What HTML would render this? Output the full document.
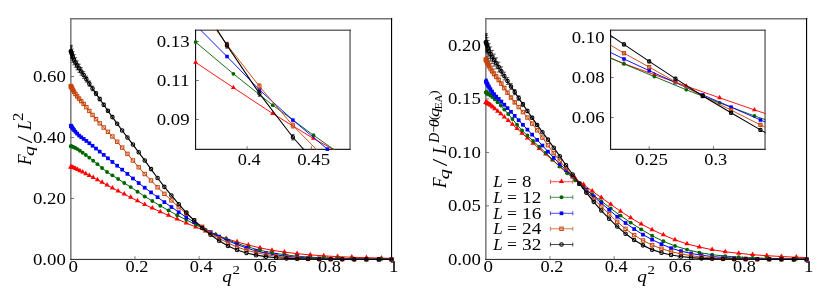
<!DOCTYPE html>
<html><head><meta charset="utf-8"><title>F_q scaling</title>
<style>html,body{margin:0;padding:0;background:#fff;}svg{display:block;will-change:transform;}text{font-family:"Liberation Serif",serif;}</style></head>
<body>
<svg width="830" height="302" viewBox="0 0 830 302" font-family='"Liberation Serif", serif' fill="#000">
<rect width="830" height="302" fill="#fff"/>
<defs>
<clipPath id="cl"><rect x="70.35" y="18.25" width="321.7" height="241.65"/></clipPath>
<clipPath id="cr"><rect x="485.35" y="18.25" width="321.7" height="241.65"/></clipPath>
<clipPath id="cil"><rect x="195.1" y="29.7" width="155.45" height="120.2"/></clipPath>
<clipPath id="cir"><rect x="610.1" y="29.7" width="155.45" height="120.2"/></clipPath>
</defs>
<path d="M70.85 18.75L391.55 18.75" stroke="#747474" stroke-width="1.45" stroke-linecap="square" fill="none"/>
<path d="M70.85 259.4L70.85 18.75" stroke="#747474" stroke-width="1.45" stroke-linecap="square" fill="none"/>
<path d="M391.55 259.4L391.55 18.75" stroke="#000" stroke-width="1.15" stroke-linecap="square" fill="none"/>
<path d="M70.85 259.4L391.55 259.4" stroke="#1c1c1c" stroke-width="1.0" stroke-linecap="square" fill="none"/>
<text x="73.15" y="272.4" font-size="16.4" text-anchor="middle" textLength="9.5" lengthAdjust="spacingAndGlyphs">0</text>
<path d="M134.99 259.4L134.99 256.2" stroke="#555" stroke-width="0.8"/>
<text x="136.99" y="272.4" font-size="16.4" text-anchor="middle" textLength="22.9" lengthAdjust="spacingAndGlyphs">0.2</text>
<path d="M199.13 259.4L199.13 256.2" stroke="#555" stroke-width="0.8"/>
<text x="201.13" y="272.4" font-size="16.4" text-anchor="middle" textLength="22.9" lengthAdjust="spacingAndGlyphs">0.4</text>
<path d="M263.27 259.4L263.27 256.2" stroke="#555" stroke-width="0.8"/>
<text x="265.27" y="272.4" font-size="16.4" text-anchor="middle" textLength="22.9" lengthAdjust="spacingAndGlyphs">0.6</text>
<path d="M327.41 259.4L327.41 256.2" stroke="#555" stroke-width="0.8"/>
<text x="329.41" y="272.4" font-size="16.4" text-anchor="middle" textLength="22.9" lengthAdjust="spacingAndGlyphs">0.8</text>
<text x="393.85" y="272.4" font-size="16.4" text-anchor="middle" textLength="9.5" lengthAdjust="spacingAndGlyphs">1</text>
<text x="65.85" y="264.55" font-size="16.4" text-anchor="end" textLength="32.9" lengthAdjust="spacingAndGlyphs">0.00</text>
<path d="M70.85 198.44L74.05 198.44" stroke="#555" stroke-width="0.8"/>
<text x="65.85" y="203.59" font-size="16.4" text-anchor="end" textLength="32.9" lengthAdjust="spacingAndGlyphs">0.20</text>
<path d="M70.85 137.48L74.05 137.48" stroke="#555" stroke-width="0.8"/>
<text x="65.85" y="142.63" font-size="16.4" text-anchor="end" textLength="32.9" lengthAdjust="spacingAndGlyphs">0.40</text>
<path d="M70.85 76.52L74.05 76.52" stroke="#555" stroke-width="0.8"/>
<text x="65.85" y="81.67" font-size="16.4" text-anchor="end" textLength="32.9" lengthAdjust="spacingAndGlyphs">0.60</text>
<text x="222.25" y="281.6" font-size="16.6" text-anchor="start" font-style="italic" textLength="9.6" lengthAdjust="spacingAndGlyphs">q</text>
<text x="232.6" y="273.75" font-size="13.3" text-anchor="start" textLength="7.45" lengthAdjust="spacingAndGlyphs">2</text>
<g clip-path="url(#cl)">
<path d="M70.85 167.05L71.03 167.09L71.59 167.24L72.51 167.51L73.81 167.94L75.47 168.59L77.5 169.53L79.9 170.74L82.67 172.16L85.81 173.75L89.32 175.59L93.2 177.65L97.45 179.93L102.07 182.45L107.06 185.15L112.41 187.99L118.14 191L124.24 194.17L130.7 197.47L137.54 200.95L144.74 204.66L152.31 208.13L160.26 211.73L168.57 215.42L177.25 219.22L186.3 223.04L195.72 227L205.51 231.04L215.67 234.94L226.2 238.57L237.1 241.94L248.37 245L260.01 247.88L272.01 250.28L284.39 252.12L297.14 253.67L310.25 254.89L323.74 255.83L337.59 256.61L351.81 257.22L366.41 257.71L381.37 258.12L396.7 258.42" fill="none" stroke="#ff0000" stroke-width="1" stroke-linejoin="round"/>
</g>
<path d="M68.25 168.45L73.45 168.45L70.85 163.95Z" fill="#ff0000"/>
<path d="M68.43 168.49L73.63 168.49L71.03 163.99Z" fill="#ff0000"/>
<path d="M68.99 168.64L74.19 168.64L71.59 164.14Z" fill="#ff0000"/>
<path d="M69.91 168.91L75.11 168.91L72.51 164.41Z" fill="#ff0000"/>
<path d="M71.21 169.34L76.41 169.34L73.81 164.84Z" fill="#ff0000"/>
<path d="M72.87 169.99L78.07 169.99L75.47 165.49Z" fill="#ff0000"/>
<path d="M74.9 170.93L80.1 170.93L77.5 166.43Z" fill="#ff0000"/>
<path d="M77.3 172.14L82.5 172.14L79.9 167.64Z" fill="#ff0000"/>
<path d="M80.07 173.56L85.27 173.56L82.67 169.06Z" fill="#ff0000"/>
<path d="M83.21 175.15L88.41 175.15L85.81 170.65Z" fill="#ff0000"/>
<path d="M86.72 176.99L91.92 176.99L89.32 172.49Z" fill="#ff0000"/>
<path d="M90.6 179.05L95.8 179.05L93.2 174.55Z" fill="#ff0000"/>
<path d="M94.85 181.33L100.05 181.33L97.45 176.83Z" fill="#ff0000"/>
<path d="M99.47 183.85L104.67 183.85L102.07 179.35Z" fill="#ff0000"/>
<path d="M104.46 186.55L109.66 186.55L107.06 182.05Z" fill="#ff0000"/>
<path d="M109.81 189.39L115.01 189.39L112.41 184.89Z" fill="#ff0000"/>
<path d="M115.54 192.4L120.74 192.4L118.14 187.9Z" fill="#ff0000"/>
<path d="M121.64 195.57L126.84 195.57L124.24 191.07Z" fill="#ff0000"/>
<path d="M128.1 198.87L133.3 198.87L130.7 194.37Z" fill="#ff0000"/>
<path d="M134.94 202.35L140.14 202.35L137.54 197.85Z" fill="#ff0000"/>
<path d="M142.14 206.06L147.34 206.06L144.74 201.56Z" fill="#ff0000"/>
<path d="M149.71 209.53L154.91 209.53L152.31 205.03Z" fill="#ff0000"/>
<path d="M157.66 213.13L162.86 213.13L160.26 208.63Z" fill="#ff0000"/>
<path d="M165.97 216.82L171.17 216.82L168.57 212.32Z" fill="#ff0000"/>
<path d="M174.65 220.62L179.85 220.62L177.25 216.12Z" fill="#ff0000"/>
<path d="M183.7 224.44L188.9 224.44L186.3 219.94Z" fill="#ff0000"/>
<path d="M193.12 228.4L198.32 228.4L195.72 223.9Z" fill="#ff0000"/>
<path d="M202.91 232.44L208.11 232.44L205.51 227.94Z" fill="#ff0000"/>
<path d="M213.07 236.34L218.27 236.34L215.67 231.84Z" fill="#ff0000"/>
<path d="M223.6 239.97L228.8 239.97L226.2 235.47Z" fill="#ff0000"/>
<path d="M234.5 243.34L239.7 243.34L237.1 238.84Z" fill="#ff0000"/>
<path d="M245.77 246.4L250.97 246.4L248.37 241.9Z" fill="#ff0000"/>
<path d="M257.41 249.28L262.61 249.28L260.01 244.78Z" fill="#ff0000"/>
<path d="M269.41 251.68L274.61 251.68L272.01 247.18Z" fill="#ff0000"/>
<path d="M281.79 253.52L286.99 253.52L284.39 249.02Z" fill="#ff0000"/>
<path d="M294.54 255.07L299.74 255.07L297.14 250.57Z" fill="#ff0000"/>
<path d="M307.65 256.29L312.85 256.29L310.25 251.79Z" fill="#ff0000"/>
<path d="M321.14 257.23L326.34 257.23L323.74 252.73Z" fill="#ff0000"/>
<path d="M334.99 258.01L340.19 258.01L337.59 253.51Z" fill="#ff0000"/>
<path d="M349.21 258.62L354.41 258.62L351.81 254.12Z" fill="#ff0000"/>
<path d="M363.81 259.11L369.01 259.11L366.41 254.61Z" fill="#ff0000"/>
<path d="M378.77 259.52L383.97 259.52L381.37 255.02Z" fill="#ff0000"/>
<g clip-path="url(#cl)">
<path d="M70.85 146.17L71.03 146.22L71.59 146.4L72.51 146.73L73.81 147.25L75.47 148.01L77.5 149.12L79.9 150.73L82.67 152.71L85.81 154.99L89.32 157.65L93.2 160.71L97.45 164.14L102.07 168.02L107.06 171.98L112.41 175.37L118.14 179.02L124.24 182.98L130.7 187.11L137.54 191.68L144.74 196.43L152.31 201L160.26 205.78L168.57 210.54L177.25 215.29L186.3 219.87L195.72 224.83L205.51 229.73L215.67 234.42L226.2 239.06L237.1 243.37L248.37 247.1L260.01 250.3L272.01 252.74L284.39 254.78L297.14 256.2L310.25 257.18L323.74 257.89L337.59 258.34L351.81 258.67L366.41 258.88L381.37 259.03L396.7 259.11" fill="none" stroke="#006400" stroke-width="1" stroke-linejoin="round"/>
</g>
<circle cx="70.85" cy="146.17" r="1.95" fill="#006400"/>
<circle cx="71.03" cy="146.22" r="1.95" fill="#006400"/>
<circle cx="71.59" cy="146.4" r="1.95" fill="#006400"/>
<circle cx="72.51" cy="146.73" r="1.95" fill="#006400"/>
<circle cx="73.81" cy="147.25" r="1.95" fill="#006400"/>
<circle cx="75.47" cy="148.01" r="1.95" fill="#006400"/>
<circle cx="77.5" cy="149.12" r="1.95" fill="#006400"/>
<circle cx="79.9" cy="150.73" r="1.95" fill="#006400"/>
<circle cx="82.67" cy="152.71" r="1.95" fill="#006400"/>
<circle cx="85.81" cy="154.99" r="1.95" fill="#006400"/>
<circle cx="89.32" cy="157.65" r="1.95" fill="#006400"/>
<circle cx="93.2" cy="160.71" r="1.95" fill="#006400"/>
<circle cx="97.45" cy="164.14" r="1.95" fill="#006400"/>
<circle cx="102.07" cy="168.02" r="1.95" fill="#006400"/>
<circle cx="107.06" cy="171.98" r="1.95" fill="#006400"/>
<circle cx="112.41" cy="175.37" r="1.95" fill="#006400"/>
<circle cx="118.14" cy="179.02" r="1.95" fill="#006400"/>
<circle cx="124.24" cy="182.98" r="1.95" fill="#006400"/>
<circle cx="130.7" cy="187.11" r="1.95" fill="#006400"/>
<circle cx="137.54" cy="191.68" r="1.95" fill="#006400"/>
<circle cx="144.74" cy="196.43" r="1.95" fill="#006400"/>
<circle cx="152.31" cy="201" r="1.95" fill="#006400"/>
<circle cx="160.26" cy="205.78" r="1.95" fill="#006400"/>
<circle cx="168.57" cy="210.54" r="1.95" fill="#006400"/>
<circle cx="177.25" cy="215.29" r="1.95" fill="#006400"/>
<circle cx="186.3" cy="219.87" r="1.95" fill="#006400"/>
<circle cx="195.72" cy="224.83" r="1.95" fill="#006400"/>
<circle cx="205.51" cy="229.73" r="1.95" fill="#006400"/>
<circle cx="215.67" cy="234.42" r="1.95" fill="#006400"/>
<circle cx="226.2" cy="239.06" r="1.95" fill="#006400"/>
<circle cx="237.1" cy="243.37" r="1.95" fill="#006400"/>
<circle cx="248.37" cy="247.1" r="1.95" fill="#006400"/>
<circle cx="260.01" cy="250.3" r="1.95" fill="#006400"/>
<circle cx="272.01" cy="252.74" r="1.95" fill="#006400"/>
<circle cx="284.39" cy="254.78" r="1.95" fill="#006400"/>
<circle cx="297.14" cy="256.2" r="1.95" fill="#006400"/>
<circle cx="310.25" cy="257.18" r="1.95" fill="#006400"/>
<circle cx="323.74" cy="257.89" r="1.95" fill="#006400"/>
<circle cx="337.59" cy="258.34" r="1.95" fill="#006400"/>
<circle cx="351.81" cy="258.67" r="1.95" fill="#006400"/>
<circle cx="366.41" cy="258.88" r="1.95" fill="#006400"/>
<circle cx="381.37" cy="259.03" r="1.95" fill="#006400"/>
<g clip-path="url(#cl)">
<path d="M70.85 125.75L70.98 125.93L71.36 126.48L72 127.38L72.9 128.59L74.06 130.08L75.47 131.78L77.14 133.63L79.06 135.51L81.24 137.26L83.68 138.94L86.37 140.93L89.32 143.22L92.53 145.77L95.99 148.56L99.71 151.6L103.69 154.86L107.92 158.32L112.41 161.95L117.16 165.71L122.16 169.67L127.42 173.9L132.94 178.48L138.71 183.05L144.74 187.71L151.03 192.4L157.57 197.19L164.37 202.13L171.42 207.04L178.73 212.22L186.3 217.19L194.13 222.12L202.21 227.34L210.55 232.06L219.14 236.6L227.99 240.79L237.1 244.58L246.47 247.96L256.09 250.99L265.96 253.2L276.1 254.92L286.49 256.29L297.14 257.24L308.04 257.93L319.2 258.45L330.62 258.77L342.29 258.97L354.22 259.11L366.41 259.2L378.85 259.28L391.55 259.31" fill="none" stroke="#0000ff" stroke-width="1" stroke-linejoin="round"/>
<path d="M70.85 124.37L70.85 127.12M69.15 124.37L72.55 124.37M69.15 127.12L72.55 127.12M70.98 124.57L70.98 127.29M69.28 124.57L72.68 124.57M69.28 127.29L72.68 127.29M71.36 125.14L71.36 127.82M69.66 125.14L73.06 125.14M69.66 127.82L73.06 127.82M72 126.07L72 128.68M70.3 126.07L73.7 126.07M70.3 128.68L73.7 128.68M72.9 127.33L72.9 129.85M71.2 127.33L74.6 127.33M71.2 129.85L74.6 129.85" fill="none" stroke="#0000ff" stroke-width="0.6"/>
</g>
<rect x="69" y="123.9" width="3.7" height="3.7" fill="#0000ff"/>
<rect x="69.13" y="124.08" width="3.7" height="3.7" fill="#0000ff"/>
<rect x="69.51" y="124.63" width="3.7" height="3.7" fill="#0000ff"/>
<rect x="70.15" y="125.53" width="3.7" height="3.7" fill="#0000ff"/>
<rect x="71.05" y="126.74" width="3.7" height="3.7" fill="#0000ff"/>
<rect x="72.21" y="128.23" width="3.7" height="3.7" fill="#0000ff"/>
<rect x="73.62" y="129.93" width="3.7" height="3.7" fill="#0000ff"/>
<rect x="75.29" y="131.78" width="3.7" height="3.7" fill="#0000ff"/>
<rect x="77.21" y="133.66" width="3.7" height="3.7" fill="#0000ff"/>
<rect x="79.39" y="135.41" width="3.7" height="3.7" fill="#0000ff"/>
<rect x="81.83" y="137.09" width="3.7" height="3.7" fill="#0000ff"/>
<rect x="84.52" y="139.08" width="3.7" height="3.7" fill="#0000ff"/>
<rect x="87.47" y="141.37" width="3.7" height="3.7" fill="#0000ff"/>
<rect x="90.68" y="143.92" width="3.7" height="3.7" fill="#0000ff"/>
<rect x="94.14" y="146.71" width="3.7" height="3.7" fill="#0000ff"/>
<rect x="97.86" y="149.75" width="3.7" height="3.7" fill="#0000ff"/>
<rect x="101.84" y="153.01" width="3.7" height="3.7" fill="#0000ff"/>
<rect x="106.07" y="156.47" width="3.7" height="3.7" fill="#0000ff"/>
<rect x="110.56" y="160.1" width="3.7" height="3.7" fill="#0000ff"/>
<rect x="115.31" y="163.86" width="3.7" height="3.7" fill="#0000ff"/>
<rect x="120.31" y="167.82" width="3.7" height="3.7" fill="#0000ff"/>
<rect x="125.57" y="172.05" width="3.7" height="3.7" fill="#0000ff"/>
<rect x="131.09" y="176.63" width="3.7" height="3.7" fill="#0000ff"/>
<rect x="136.86" y="181.2" width="3.7" height="3.7" fill="#0000ff"/>
<rect x="142.89" y="185.86" width="3.7" height="3.7" fill="#0000ff"/>
<rect x="149.18" y="190.55" width="3.7" height="3.7" fill="#0000ff"/>
<rect x="155.72" y="195.34" width="3.7" height="3.7" fill="#0000ff"/>
<rect x="162.52" y="200.28" width="3.7" height="3.7" fill="#0000ff"/>
<rect x="169.57" y="205.19" width="3.7" height="3.7" fill="#0000ff"/>
<rect x="176.88" y="210.37" width="3.7" height="3.7" fill="#0000ff"/>
<rect x="184.45" y="215.34" width="3.7" height="3.7" fill="#0000ff"/>
<rect x="192.28" y="220.27" width="3.7" height="3.7" fill="#0000ff"/>
<rect x="200.36" y="225.49" width="3.7" height="3.7" fill="#0000ff"/>
<rect x="208.7" y="230.21" width="3.7" height="3.7" fill="#0000ff"/>
<rect x="217.29" y="234.75" width="3.7" height="3.7" fill="#0000ff"/>
<rect x="226.14" y="238.94" width="3.7" height="3.7" fill="#0000ff"/>
<rect x="235.25" y="242.73" width="3.7" height="3.7" fill="#0000ff"/>
<rect x="244.62" y="246.11" width="3.7" height="3.7" fill="#0000ff"/>
<rect x="254.24" y="249.14" width="3.7" height="3.7" fill="#0000ff"/>
<rect x="264.11" y="251.35" width="3.7" height="3.7" fill="#0000ff"/>
<rect x="274.25" y="253.07" width="3.7" height="3.7" fill="#0000ff"/>
<rect x="284.64" y="254.44" width="3.7" height="3.7" fill="#0000ff"/>
<rect x="295.29" y="255.39" width="3.7" height="3.7" fill="#0000ff"/>
<rect x="306.19" y="256.08" width="3.7" height="3.7" fill="#0000ff"/>
<rect x="317.35" y="256.6" width="3.7" height="3.7" fill="#0000ff"/>
<rect x="328.77" y="256.92" width="3.7" height="3.7" fill="#0000ff"/>
<rect x="340.44" y="257.12" width="3.7" height="3.7" fill="#0000ff"/>
<rect x="352.37" y="257.26" width="3.7" height="3.7" fill="#0000ff"/>
<rect x="364.56" y="257.35" width="3.7" height="3.7" fill="#0000ff"/>
<rect x="377" y="257.43" width="3.7" height="3.7" fill="#0000ff"/>
<rect x="389.7" y="257.46" width="3.7" height="3.7" fill="#0000ff"/>
<g clip-path="url(#cl)">
<path d="M70.85 86.27L70.98 86.51L71.36 87.2L72 88.35L72.9 89.9L74.06 91.82L75.47 94L77.14 96.3L79.06 98.65L81.24 101.13L83.68 103.91L86.37 107.21L89.32 110.94L92.53 114.99L95.99 119.19L99.71 123.34L103.69 127.49L107.92 131.8L112.41 136.51L117.16 141.77L122.16 147.59L127.42 153.87L132.94 160.5L138.71 167.29L144.74 174.03L151.03 180.46L157.57 187.28L164.37 193.87L171.42 200.36L178.73 207.22L186.3 213.53L194.13 220.29L202.21 226.79L210.55 232.91L219.14 238.37L227.99 243.04L237.1 247.02L246.47 250.15L256.09 252.68L265.96 254.66L276.1 256.2L286.49 257.36L297.14 258.12L308.04 258.61L319.2 258.96L330.62 259.12L342.29 259.22L354.22 259.29L366.41 259.35L378.85 259.39L391.55 259.4" fill="none" stroke="#c6440c" stroke-width="1" stroke-linejoin="round"/>
<path d="M70.85 84.32L70.85 88.22M69.15 84.32L72.55 84.32M69.15 88.22L72.55 88.22M70.98 84.57L70.98 88.45M69.28 84.57L72.68 84.57M69.28 88.45L72.68 88.45M71.36 85.29L71.36 89.12M69.66 85.29L73.06 85.29M69.66 89.12L73.06 89.12M72 86.48L72 90.21M70.3 86.48L73.7 86.48M70.3 90.21L73.7 90.21M72.9 88.1L72.9 91.71M71.2 88.1L74.6 88.1M71.2 91.71L74.6 91.71M74.06 90.09L74.06 93.55M72.36 90.09L75.76 90.09M72.36 93.55L75.76 93.55M75.47 92.35L75.47 95.64M73.77 92.35L77.17 92.35M73.77 95.64L77.17 95.64M77.14 94.74L77.14 97.85M75.44 94.74L78.84 94.74M75.44 97.85L78.84 97.85M79.06 97.2L79.06 100.11M77.36 97.2L80.76 97.2M77.36 100.11L80.76 100.11M81.24 99.78L81.24 102.48M79.54 99.78L82.94 99.78M79.54 102.48L82.94 102.48M83.68 102.66L83.68 105.16M81.98 102.66L85.38 102.66M81.98 105.16L85.38 105.16" fill="none" stroke="#c6440c" stroke-width="0.6"/>
</g>
<rect x="69.15" y="84.57" width="3.4" height="3.4" fill="#c6440c" fill-opacity="0.12" stroke="#c6440c" stroke-width="1.0"/>
<rect x="69.28" y="84.81" width="3.4" height="3.4" fill="#c6440c" fill-opacity="0.12" stroke="#c6440c" stroke-width="1.0"/>
<rect x="69.66" y="85.5" width="3.4" height="3.4" fill="#c6440c" fill-opacity="0.12" stroke="#c6440c" stroke-width="1.0"/>
<rect x="70.3" y="86.65" width="3.4" height="3.4" fill="#c6440c" fill-opacity="0.12" stroke="#c6440c" stroke-width="1.0"/>
<rect x="71.2" y="88.2" width="3.4" height="3.4" fill="#c6440c" fill-opacity="0.12" stroke="#c6440c" stroke-width="1.0"/>
<rect x="72.36" y="90.12" width="3.4" height="3.4" fill="#c6440c" fill-opacity="0.12" stroke="#c6440c" stroke-width="1.0"/>
<rect x="73.77" y="92.3" width="3.4" height="3.4" fill="#c6440c" fill-opacity="0.12" stroke="#c6440c" stroke-width="1.0"/>
<rect x="75.44" y="94.6" width="3.4" height="3.4" fill="#c6440c" fill-opacity="0.12" stroke="#c6440c" stroke-width="1.0"/>
<rect x="77.36" y="96.95" width="3.4" height="3.4" fill="#c6440c" fill-opacity="0.12" stroke="#c6440c" stroke-width="1.0"/>
<rect x="79.54" y="99.43" width="3.4" height="3.4" fill="#c6440c" fill-opacity="0.12" stroke="#c6440c" stroke-width="1.0"/>
<rect x="81.98" y="102.21" width="3.4" height="3.4" fill="#c6440c" fill-opacity="0.12" stroke="#c6440c" stroke-width="1.0"/>
<rect x="84.67" y="105.51" width="3.4" height="3.4" fill="#c6440c" fill-opacity="0.12" stroke="#c6440c" stroke-width="1.0"/>
<rect x="87.62" y="109.24" width="3.4" height="3.4" fill="#c6440c" fill-opacity="0.12" stroke="#c6440c" stroke-width="1.0"/>
<rect x="90.83" y="113.29" width="3.4" height="3.4" fill="#c6440c" fill-opacity="0.12" stroke="#c6440c" stroke-width="1.0"/>
<rect x="94.29" y="117.49" width="3.4" height="3.4" fill="#c6440c" fill-opacity="0.12" stroke="#c6440c" stroke-width="1.0"/>
<rect x="98.01" y="121.64" width="3.4" height="3.4" fill="#c6440c" fill-opacity="0.12" stroke="#c6440c" stroke-width="1.0"/>
<rect x="101.99" y="125.79" width="3.4" height="3.4" fill="#c6440c" fill-opacity="0.12" stroke="#c6440c" stroke-width="1.0"/>
<rect x="106.22" y="130.1" width="3.4" height="3.4" fill="#c6440c" fill-opacity="0.12" stroke="#c6440c" stroke-width="1.0"/>
<rect x="110.71" y="134.81" width="3.4" height="3.4" fill="#c6440c" fill-opacity="0.12" stroke="#c6440c" stroke-width="1.0"/>
<rect x="115.46" y="140.07" width="3.4" height="3.4" fill="#c6440c" fill-opacity="0.12" stroke="#c6440c" stroke-width="1.0"/>
<rect x="120.46" y="145.89" width="3.4" height="3.4" fill="#c6440c" fill-opacity="0.12" stroke="#c6440c" stroke-width="1.0"/>
<rect x="125.72" y="152.17" width="3.4" height="3.4" fill="#c6440c" fill-opacity="0.12" stroke="#c6440c" stroke-width="1.0"/>
<rect x="131.24" y="158.8" width="3.4" height="3.4" fill="#c6440c" fill-opacity="0.12" stroke="#c6440c" stroke-width="1.0"/>
<rect x="137.01" y="165.59" width="3.4" height="3.4" fill="#c6440c" fill-opacity="0.12" stroke="#c6440c" stroke-width="1.0"/>
<rect x="143.04" y="172.33" width="3.4" height="3.4" fill="#c6440c" fill-opacity="0.12" stroke="#c6440c" stroke-width="1.0"/>
<rect x="149.33" y="178.76" width="3.4" height="3.4" fill="#c6440c" fill-opacity="0.12" stroke="#c6440c" stroke-width="1.0"/>
<rect x="155.87" y="185.58" width="3.4" height="3.4" fill="#c6440c" fill-opacity="0.12" stroke="#c6440c" stroke-width="1.0"/>
<rect x="162.67" y="192.17" width="3.4" height="3.4" fill="#c6440c" fill-opacity="0.12" stroke="#c6440c" stroke-width="1.0"/>
<rect x="169.72" y="198.66" width="3.4" height="3.4" fill="#c6440c" fill-opacity="0.12" stroke="#c6440c" stroke-width="1.0"/>
<rect x="177.03" y="205.52" width="3.4" height="3.4" fill="#c6440c" fill-opacity="0.12" stroke="#c6440c" stroke-width="1.0"/>
<rect x="184.6" y="211.83" width="3.4" height="3.4" fill="#c6440c" fill-opacity="0.12" stroke="#c6440c" stroke-width="1.0"/>
<rect x="192.43" y="218.59" width="3.4" height="3.4" fill="#c6440c" fill-opacity="0.12" stroke="#c6440c" stroke-width="1.0"/>
<rect x="200.51" y="225.09" width="3.4" height="3.4" fill="#c6440c" fill-opacity="0.12" stroke="#c6440c" stroke-width="1.0"/>
<rect x="208.85" y="231.21" width="3.4" height="3.4" fill="#c6440c" fill-opacity="0.12" stroke="#c6440c" stroke-width="1.0"/>
<rect x="217.44" y="236.67" width="3.4" height="3.4" fill="#c6440c" fill-opacity="0.12" stroke="#c6440c" stroke-width="1.0"/>
<rect x="226.29" y="241.34" width="3.4" height="3.4" fill="#c6440c" fill-opacity="0.12" stroke="#c6440c" stroke-width="1.0"/>
<rect x="235.4" y="245.32" width="3.4" height="3.4" fill="#c6440c" fill-opacity="0.12" stroke="#c6440c" stroke-width="1.0"/>
<rect x="244.77" y="248.45" width="3.4" height="3.4" fill="#c6440c" fill-opacity="0.12" stroke="#c6440c" stroke-width="1.0"/>
<rect x="254.39" y="250.98" width="3.4" height="3.4" fill="#c6440c" fill-opacity="0.12" stroke="#c6440c" stroke-width="1.0"/>
<rect x="264.26" y="252.96" width="3.4" height="3.4" fill="#c6440c" fill-opacity="0.12" stroke="#c6440c" stroke-width="1.0"/>
<rect x="274.4" y="254.5" width="3.4" height="3.4" fill="#c6440c" fill-opacity="0.12" stroke="#c6440c" stroke-width="1.0"/>
<rect x="284.79" y="255.66" width="3.4" height="3.4" fill="#c6440c" fill-opacity="0.12" stroke="#c6440c" stroke-width="1.0"/>
<rect x="295.44" y="256.42" width="3.4" height="3.4" fill="#c6440c" fill-opacity="0.12" stroke="#c6440c" stroke-width="1.0"/>
<rect x="306.34" y="256.91" width="3.4" height="3.4" fill="#c6440c" fill-opacity="0.12" stroke="#c6440c" stroke-width="1.0"/>
<rect x="317.5" y="257.26" width="3.4" height="3.4" fill="#c6440c" fill-opacity="0.12" stroke="#c6440c" stroke-width="1.0"/>
<rect x="328.92" y="257.42" width="3.4" height="3.4" fill="#c6440c" fill-opacity="0.12" stroke="#c6440c" stroke-width="1.0"/>
<rect x="340.59" y="257.52" width="3.4" height="3.4" fill="#c6440c" fill-opacity="0.12" stroke="#c6440c" stroke-width="1.0"/>
<rect x="352.52" y="257.59" width="3.4" height="3.4" fill="#c6440c" fill-opacity="0.12" stroke="#c6440c" stroke-width="1.0"/>
<rect x="364.71" y="257.65" width="3.4" height="3.4" fill="#c6440c" fill-opacity="0.12" stroke="#c6440c" stroke-width="1.0"/>
<rect x="377.15" y="257.69" width="3.4" height="3.4" fill="#c6440c" fill-opacity="0.12" stroke="#c6440c" stroke-width="1.0"/>
<rect x="389.85" y="257.7" width="3.4" height="3.4" fill="#c6440c" fill-opacity="0.12" stroke="#c6440c" stroke-width="1.0"/>
<g clip-path="url(#cl)">
<path d="M70.85 51.22L70.98 51.6L71.36 52.73L72 54.58L72.9 57.03L74.06 59.76L75.47 62.5L77.14 65.36L79.06 68.3L81.24 71.42L83.68 75L86.37 79.14L89.32 83.63L92.53 88.45L95.99 93.59L99.71 99.02L103.69 104.75L107.92 110.79L112.41 117.11L117.16 123.68L122.16 130.49L127.42 137.43L132.94 144.59L138.71 152.28L144.74 160.43L151.03 169.12L157.57 177.99L164.37 186.86L171.42 195.48L178.73 204.23L186.3 212.61L194.13 220.39L202.21 227.91L210.55 234.74L219.14 240.82L227.99 245.94L237.1 250.07L246.47 252.99L256.09 255.15L265.96 256.66L276.1 257.72L286.49 258.43L297.14 258.83L308.04 259.05L319.2 259.19L330.62 259.26L342.29 259.31L354.22 259.35L366.41 259.37L378.85 259.39L391.55 259.4" fill="none" stroke="#000000" stroke-width="1.15" stroke-linejoin="round"/>
<path d="M70.85 45.31L70.85 57.13M69.15 45.31L72.55 45.31M69.15 57.13L72.55 57.13M70.98 45.72L70.98 57.48M69.28 45.72L72.68 45.72M69.28 57.48L72.68 57.48M71.36 46.95L71.36 58.5M69.66 46.95L73.06 46.95M69.66 58.5L73.06 58.5M72 48.96L72 60.2M70.3 48.96L73.7 48.96M70.3 60.2L73.7 60.2M72.9 51.63L72.9 62.43M71.2 51.63L74.6 51.63M71.2 62.43L74.6 62.43M74.06 54.63L74.06 64.89M72.36 54.63L75.76 54.63M72.36 64.89L75.76 64.89M75.47 57.68L75.47 67.32M73.77 57.68L77.17 57.68M73.77 67.32L77.17 67.32M77.14 60.87L77.14 69.84M75.44 60.87L78.84 60.87M75.44 69.84L78.84 69.84M79.06 64.17L79.06 72.42M77.36 64.17L80.76 64.17M77.36 72.42L80.76 72.42M81.24 67.66L81.24 75.17M79.54 67.66L82.94 67.66M79.54 75.17L82.94 75.17M83.68 71.6L83.68 78.39M81.98 71.6L85.38 71.6M81.98 78.39L85.38 78.39M86.37 76.1L86.37 82.17M84.67 76.1L88.07 76.1M84.67 82.17L88.07 82.17M89.32 80.94L89.32 86.32M87.62 80.94L91.02 80.94M87.62 86.32L91.02 86.32M92.53 86.09L92.53 90.82M90.83 86.09L94.23 86.09M90.83 90.82L94.23 90.82M95.99 91.52L95.99 95.66M94.29 91.52L97.69 91.52M94.29 95.66L97.69 95.66M99.71 97.22L99.71 100.82M98.01 97.22L101.41 97.22M98.01 100.82L101.41 100.82M103.69 103.19L103.69 106.32M101.99 103.19L105.39 103.19M101.99 106.32L105.39 106.32M107.92 109.44L107.92 112.14M106.22 109.44L109.62 109.44M106.22 112.14L109.62 112.14" fill="none" stroke="#000000" stroke-width="0.6"/>
</g>
<circle cx="70.85" cy="51.22" r="1.75" fill="#000000" fill-opacity="0.1" stroke="#000000" stroke-width="1.05"/>
<circle cx="70.98" cy="51.6" r="1.75" fill="#000000" fill-opacity="0.1" stroke="#000000" stroke-width="1.05"/>
<circle cx="71.36" cy="52.73" r="1.75" fill="#000000" fill-opacity="0.1" stroke="#000000" stroke-width="1.05"/>
<circle cx="72" cy="54.58" r="1.75" fill="#000000" fill-opacity="0.1" stroke="#000000" stroke-width="1.05"/>
<circle cx="72.9" cy="57.03" r="1.75" fill="#000000" fill-opacity="0.1" stroke="#000000" stroke-width="1.05"/>
<circle cx="74.06" cy="59.76" r="1.75" fill="#000000" fill-opacity="0.1" stroke="#000000" stroke-width="1.05"/>
<circle cx="75.47" cy="62.5" r="1.75" fill="#000000" fill-opacity="0.1" stroke="#000000" stroke-width="1.05"/>
<circle cx="77.14" cy="65.36" r="1.75" fill="#000000" fill-opacity="0.1" stroke="#000000" stroke-width="1.05"/>
<circle cx="79.06" cy="68.3" r="1.75" fill="#000000" fill-opacity="0.1" stroke="#000000" stroke-width="1.05"/>
<circle cx="81.24" cy="71.42" r="1.75" fill="#000000" fill-opacity="0.1" stroke="#000000" stroke-width="1.05"/>
<circle cx="83.68" cy="75" r="1.75" fill="#000000" fill-opacity="0.1" stroke="#000000" stroke-width="1.05"/>
<circle cx="86.37" cy="79.14" r="1.75" fill="#000000" fill-opacity="0.1" stroke="#000000" stroke-width="1.05"/>
<circle cx="89.32" cy="83.63" r="1.75" fill="#000000" fill-opacity="0.1" stroke="#000000" stroke-width="1.05"/>
<circle cx="92.53" cy="88.45" r="1.75" fill="#000000" fill-opacity="0.1" stroke="#000000" stroke-width="1.05"/>
<circle cx="95.99" cy="93.59" r="1.75" fill="#000000" fill-opacity="0.1" stroke="#000000" stroke-width="1.05"/>
<circle cx="99.71" cy="99.02" r="1.75" fill="#000000" fill-opacity="0.1" stroke="#000000" stroke-width="1.05"/>
<circle cx="103.69" cy="104.75" r="1.75" fill="#000000" fill-opacity="0.1" stroke="#000000" stroke-width="1.05"/>
<circle cx="107.92" cy="110.79" r="1.75" fill="#000000" fill-opacity="0.1" stroke="#000000" stroke-width="1.05"/>
<circle cx="112.41" cy="117.11" r="1.75" fill="#000000" fill-opacity="0.1" stroke="#000000" stroke-width="1.05"/>
<circle cx="117.16" cy="123.68" r="1.75" fill="#000000" fill-opacity="0.1" stroke="#000000" stroke-width="1.05"/>
<circle cx="122.16" cy="130.49" r="1.75" fill="#000000" fill-opacity="0.1" stroke="#000000" stroke-width="1.05"/>
<circle cx="127.42" cy="137.43" r="1.75" fill="#000000" fill-opacity="0.1" stroke="#000000" stroke-width="1.05"/>
<circle cx="132.94" cy="144.59" r="1.75" fill="#000000" fill-opacity="0.1" stroke="#000000" stroke-width="1.05"/>
<circle cx="138.71" cy="152.28" r="1.75" fill="#000000" fill-opacity="0.1" stroke="#000000" stroke-width="1.05"/>
<circle cx="144.74" cy="160.43" r="1.75" fill="#000000" fill-opacity="0.1" stroke="#000000" stroke-width="1.05"/>
<circle cx="151.03" cy="169.12" r="1.75" fill="#000000" fill-opacity="0.1" stroke="#000000" stroke-width="1.05"/>
<circle cx="157.57" cy="177.99" r="1.75" fill="#000000" fill-opacity="0.1" stroke="#000000" stroke-width="1.05"/>
<circle cx="164.37" cy="186.86" r="1.75" fill="#000000" fill-opacity="0.1" stroke="#000000" stroke-width="1.05"/>
<circle cx="171.42" cy="195.48" r="1.75" fill="#000000" fill-opacity="0.1" stroke="#000000" stroke-width="1.05"/>
<circle cx="178.73" cy="204.23" r="1.75" fill="#000000" fill-opacity="0.1" stroke="#000000" stroke-width="1.05"/>
<circle cx="186.3" cy="212.61" r="1.75" fill="#000000" fill-opacity="0.1" stroke="#000000" stroke-width="1.05"/>
<circle cx="194.13" cy="220.39" r="1.75" fill="#000000" fill-opacity="0.1" stroke="#000000" stroke-width="1.05"/>
<circle cx="202.21" cy="227.91" r="1.75" fill="#000000" fill-opacity="0.1" stroke="#000000" stroke-width="1.05"/>
<circle cx="210.55" cy="234.74" r="1.75" fill="#000000" fill-opacity="0.1" stroke="#000000" stroke-width="1.05"/>
<circle cx="219.14" cy="240.82" r="1.75" fill="#000000" fill-opacity="0.1" stroke="#000000" stroke-width="1.05"/>
<circle cx="227.99" cy="245.94" r="1.75" fill="#000000" fill-opacity="0.1" stroke="#000000" stroke-width="1.05"/>
<circle cx="237.1" cy="250.07" r="1.75" fill="#000000" fill-opacity="0.1" stroke="#000000" stroke-width="1.05"/>
<circle cx="246.47" cy="252.99" r="1.75" fill="#000000" fill-opacity="0.1" stroke="#000000" stroke-width="1.05"/>
<circle cx="256.09" cy="255.15" r="1.75" fill="#000000" fill-opacity="0.1" stroke="#000000" stroke-width="1.05"/>
<circle cx="265.96" cy="256.66" r="1.75" fill="#000000" fill-opacity="0.1" stroke="#000000" stroke-width="1.05"/>
<circle cx="276.1" cy="257.72" r="1.75" fill="#000000" fill-opacity="0.1" stroke="#000000" stroke-width="1.05"/>
<circle cx="286.49" cy="258.43" r="1.75" fill="#000000" fill-opacity="0.1" stroke="#000000" stroke-width="1.05"/>
<circle cx="297.14" cy="258.83" r="1.75" fill="#000000" fill-opacity="0.1" stroke="#000000" stroke-width="1.05"/>
<circle cx="308.04" cy="259.05" r="1.75" fill="#000000" fill-opacity="0.1" stroke="#000000" stroke-width="1.05"/>
<circle cx="319.2" cy="259.19" r="1.75" fill="#000000" fill-opacity="0.1" stroke="#000000" stroke-width="1.05"/>
<circle cx="330.62" cy="259.26" r="1.75" fill="#000000" fill-opacity="0.1" stroke="#000000" stroke-width="1.05"/>
<circle cx="342.29" cy="259.31" r="1.75" fill="#000000" fill-opacity="0.1" stroke="#000000" stroke-width="1.05"/>
<circle cx="354.22" cy="259.35" r="1.75" fill="#000000" fill-opacity="0.1" stroke="#000000" stroke-width="1.05"/>
<circle cx="366.41" cy="259.37" r="1.75" fill="#000000" fill-opacity="0.1" stroke="#000000" stroke-width="1.05"/>
<circle cx="378.85" cy="259.39" r="1.75" fill="#000000" fill-opacity="0.1" stroke="#000000" stroke-width="1.05"/>
<circle cx="391.55" cy="259.4" r="1.75" fill="#000000" fill-opacity="0.1" stroke="#000000" stroke-width="1.05"/>
<g clip-path="url(#cl)">
</g>
<path d="M485.85 18.75L806.55 18.75" stroke="#747474" stroke-width="1.45" stroke-linecap="square" fill="none"/>
<path d="M485.85 259.4L485.85 18.75" stroke="#747474" stroke-width="1.45" stroke-linecap="square" fill="none"/>
<path d="M806.55 259.4L806.55 18.75" stroke="#000" stroke-width="1.15" stroke-linecap="square" fill="none"/>
<path d="M485.85 259.4L806.55 259.4" stroke="#1c1c1c" stroke-width="1.0" stroke-linecap="square" fill="none"/>
<text x="488.15" y="272.4" font-size="16.4" text-anchor="middle" textLength="9.5" lengthAdjust="spacingAndGlyphs">0</text>
<path d="M549.99 259.4L549.99 256.2" stroke="#555" stroke-width="0.8"/>
<text x="551.99" y="272.4" font-size="16.4" text-anchor="middle" textLength="22.9" lengthAdjust="spacingAndGlyphs">0.2</text>
<path d="M614.13 259.4L614.13 256.2" stroke="#555" stroke-width="0.8"/>
<text x="616.13" y="272.4" font-size="16.4" text-anchor="middle" textLength="22.9" lengthAdjust="spacingAndGlyphs">0.4</text>
<path d="M678.27 259.4L678.27 256.2" stroke="#555" stroke-width="0.8"/>
<text x="680.27" y="272.4" font-size="16.4" text-anchor="middle" textLength="22.9" lengthAdjust="spacingAndGlyphs">0.6</text>
<path d="M742.41 259.4L742.41 256.2" stroke="#555" stroke-width="0.8"/>
<text x="744.41" y="272.4" font-size="16.4" text-anchor="middle" textLength="22.9" lengthAdjust="spacingAndGlyphs">0.8</text>
<text x="808.85" y="272.4" font-size="16.4" text-anchor="middle" textLength="9.5" lengthAdjust="spacingAndGlyphs">1</text>
<text x="480.85" y="264.55" font-size="16.4" text-anchor="end" textLength="32.9" lengthAdjust="spacingAndGlyphs">0.00</text>
<path d="M485.85 205.92L489.05 205.92" stroke="#555" stroke-width="0.8"/>
<text x="480.85" y="211.07" font-size="16.4" text-anchor="end" textLength="32.9" lengthAdjust="spacingAndGlyphs">0.05</text>
<path d="M485.85 152.45L489.05 152.45" stroke="#555" stroke-width="0.8"/>
<text x="480.85" y="157.6" font-size="16.4" text-anchor="end" textLength="32.9" lengthAdjust="spacingAndGlyphs">0.10</text>
<path d="M485.85 98.97L489.05 98.97" stroke="#555" stroke-width="0.8"/>
<text x="480.85" y="104.12" font-size="16.4" text-anchor="end" textLength="32.9" lengthAdjust="spacingAndGlyphs">0.15</text>
<path d="M485.85 45.5L489.05 45.5" stroke="#555" stroke-width="0.8"/>
<text x="480.85" y="50.65" font-size="16.4" text-anchor="end" textLength="32.9" lengthAdjust="spacingAndGlyphs">0.20</text>
<text x="637.25" y="281.6" font-size="16.6" text-anchor="start" font-style="italic" textLength="9.6" lengthAdjust="spacingAndGlyphs">q</text>
<text x="647.6" y="273.75" font-size="13.3" text-anchor="start" textLength="7.45" lengthAdjust="spacingAndGlyphs">2</text>
<g clip-path="url(#cr)">
<path d="M485.85 102.56L486.03 102.64L486.59 102.89L487.51 103.35L488.81 104.07L490.47 105.18L492.5 106.77L494.9 108.83L497.67 111.24L500.81 113.95L504.32 117.07L508.2 120.57L512.45 124.44L517.07 128.72L522.06 133.3L527.41 138.13L533.14 143.24L539.24 148.62L545.7 154.22L552.54 160.13L559.74 166.43L567.31 172.34L575.26 178.44L583.57 184.71L592.25 191.17L601.3 197.65L610.72 204.37L620.51 211.24L630.67 217.86L641.2 224.03L652.1 229.74L663.37 234.94L675.01 239.84L687.01 243.92L699.39 247.04L712.14 249.67L725.25 251.75L738.74 253.34L752.59 254.66L766.81 255.7L781.41 256.53L796.37 257.22L811.7 257.74" fill="none" stroke="#ff0000" stroke-width="1" stroke-linejoin="round"/>
<path d="M485.85 100.89L485.85 104.22M484.15 100.89L487.55 100.89M484.15 104.22L487.55 104.22M486.03 100.98L486.03 104.29M484.33 100.98L487.73 100.98M484.33 104.29L487.73 104.29M486.59 101.28L486.59 104.51M484.89 101.28L488.29 101.28M484.89 104.51L488.29 104.51M487.51 101.79L487.51 104.9M485.81 101.79L489.21 101.79M485.81 104.9L489.21 104.9M488.81 102.6L488.81 105.55M487.11 102.6L490.51 102.6M487.11 105.55L490.51 105.55M490.47 103.8L490.47 106.56M488.77 103.8L492.17 103.8M488.77 106.56L492.17 106.56M492.5 105.5L492.5 108.04M490.8 105.5L494.2 105.5M490.8 108.04L494.2 108.04" fill="none" stroke="#ff0000" stroke-width="0.6"/>
</g>
<path d="M483.25 103.96L488.45 103.96L485.85 99.46Z" fill="#ff0000"/>
<path d="M483.43 104.04L488.63 104.04L486.03 99.54Z" fill="#ff0000"/>
<path d="M483.99 104.29L489.19 104.29L486.59 99.79Z" fill="#ff0000"/>
<path d="M484.91 104.75L490.11 104.75L487.51 100.25Z" fill="#ff0000"/>
<path d="M486.21 105.47L491.41 105.47L488.81 100.97Z" fill="#ff0000"/>
<path d="M487.87 106.58L493.07 106.58L490.47 102.08Z" fill="#ff0000"/>
<path d="M489.9 108.17L495.1 108.17L492.5 103.67Z" fill="#ff0000"/>
<path d="M492.3 110.23L497.5 110.23L494.9 105.73Z" fill="#ff0000"/>
<path d="M495.07 112.64L500.27 112.64L497.67 108.14Z" fill="#ff0000"/>
<path d="M498.21 115.35L503.41 115.35L500.81 110.85Z" fill="#ff0000"/>
<path d="M501.72 118.47L506.92 118.47L504.32 113.97Z" fill="#ff0000"/>
<path d="M505.6 121.97L510.8 121.97L508.2 117.47Z" fill="#ff0000"/>
<path d="M509.85 125.84L515.05 125.84L512.45 121.34Z" fill="#ff0000"/>
<path d="M514.47 130.12L519.67 130.12L517.07 125.62Z" fill="#ff0000"/>
<path d="M519.46 134.7L524.66 134.7L522.06 130.2Z" fill="#ff0000"/>
<path d="M524.81 139.53L530.01 139.53L527.41 135.03Z" fill="#ff0000"/>
<path d="M530.54 144.64L535.74 144.64L533.14 140.14Z" fill="#ff0000"/>
<path d="M536.64 150.02L541.84 150.02L539.24 145.52Z" fill="#ff0000"/>
<path d="M543.1 155.62L548.3 155.62L545.7 151.12Z" fill="#ff0000"/>
<path d="M549.94 161.53L555.14 161.53L552.54 157.03Z" fill="#ff0000"/>
<path d="M557.14 167.83L562.34 167.83L559.74 163.33Z" fill="#ff0000"/>
<path d="M564.71 173.74L569.91 173.74L567.31 169.24Z" fill="#ff0000"/>
<path d="M572.66 179.84L577.86 179.84L575.26 175.34Z" fill="#ff0000"/>
<path d="M580.97 186.11L586.17 186.11L583.57 181.61Z" fill="#ff0000"/>
<path d="M589.65 192.57L594.85 192.57L592.25 188.07Z" fill="#ff0000"/>
<path d="M598.7 199.05L603.9 199.05L601.3 194.55Z" fill="#ff0000"/>
<path d="M608.12 205.77L613.32 205.77L610.72 201.27Z" fill="#ff0000"/>
<path d="M617.91 212.64L623.11 212.64L620.51 208.14Z" fill="#ff0000"/>
<path d="M628.07 219.26L633.27 219.26L630.67 214.76Z" fill="#ff0000"/>
<path d="M638.6 225.43L643.8 225.43L641.2 220.93Z" fill="#ff0000"/>
<path d="M649.5 231.14L654.7 231.14L652.1 226.64Z" fill="#ff0000"/>
<path d="M660.77 236.34L665.97 236.34L663.37 231.84Z" fill="#ff0000"/>
<path d="M672.41 241.24L677.61 241.24L675.01 236.74Z" fill="#ff0000"/>
<path d="M684.41 245.32L689.61 245.32L687.01 240.82Z" fill="#ff0000"/>
<path d="M696.79 248.44L701.99 248.44L699.39 243.94Z" fill="#ff0000"/>
<path d="M709.54 251.07L714.74 251.07L712.14 246.57Z" fill="#ff0000"/>
<path d="M722.65 253.15L727.85 253.15L725.25 248.65Z" fill="#ff0000"/>
<path d="M736.14 254.74L741.34 254.74L738.74 250.24Z" fill="#ff0000"/>
<path d="M749.99 256.06L755.19 256.06L752.59 251.56Z" fill="#ff0000"/>
<path d="M764.21 257.1L769.41 257.1L766.81 252.6Z" fill="#ff0000"/>
<path d="M778.81 257.93L784.01 257.93L781.41 253.43Z" fill="#ff0000"/>
<path d="M793.77 258.62L798.97 258.62L796.37 254.12Z" fill="#ff0000"/>
<g clip-path="url(#cr)">
<path d="M485.85 92.53L486.03 92.61L486.59 92.87L487.51 93.35L488.81 94.12L490.47 95.24L492.5 96.88L494.9 99.26L497.67 102.17L500.81 105.52L504.32 109.46L508.2 113.95L512.45 119.02L517.07 124.73L522.06 130.57L527.41 135.56L533.14 140.94L539.24 146.78L545.7 152.86L552.54 159.6L559.74 166.6L567.31 173.34L575.26 180.38L583.57 187.4L592.25 194.4L601.3 201.14L610.72 208.46L620.51 215.67L630.67 222.59L641.2 229.42L652.1 235.78L663.37 241.27L675.01 245.99L687.01 249.58L699.39 252.58L712.14 254.69L725.25 256.14L738.74 257.18L752.59 257.84L766.81 258.32L781.41 258.63L796.37 258.86L811.7 258.98" fill="none" stroke="#006400" stroke-width="1" stroke-linejoin="round"/>
<path d="M485.85 90.39L485.85 94.66M484.15 90.39L487.55 90.39M484.15 94.66L487.55 94.66M486.03 90.49L486.03 94.73M484.33 90.49L487.73 90.49M484.33 94.73L487.73 94.73M486.59 90.8L486.59 94.94M484.89 90.8L488.29 90.8M484.89 94.94L488.29 94.94M487.51 91.36L487.51 95.35M485.81 91.36L489.21 91.36M485.81 95.35L489.21 95.35M488.81 92.23L488.81 96.01M487.11 92.23L490.51 92.23M487.11 96.01L490.51 96.01M490.47 93.47L490.47 97M488.77 93.47L492.17 93.47M488.77 97L492.17 97M492.5 95.26L492.5 98.51M490.8 95.26L494.2 95.26M490.8 98.51L494.2 98.51M494.9 97.78L494.9 100.73M493.2 97.78L496.6 97.78M493.2 100.73L496.6 100.73M497.67 100.85L497.67 103.49M495.97 100.85L499.37 100.85M495.97 103.49L499.37 103.49" fill="none" stroke="#006400" stroke-width="0.6"/>
</g>
<circle cx="485.85" cy="92.53" r="1.95" fill="#006400"/>
<circle cx="486.03" cy="92.61" r="1.95" fill="#006400"/>
<circle cx="486.59" cy="92.87" r="1.95" fill="#006400"/>
<circle cx="487.51" cy="93.35" r="1.95" fill="#006400"/>
<circle cx="488.81" cy="94.12" r="1.95" fill="#006400"/>
<circle cx="490.47" cy="95.24" r="1.95" fill="#006400"/>
<circle cx="492.5" cy="96.88" r="1.95" fill="#006400"/>
<circle cx="494.9" cy="99.26" r="1.95" fill="#006400"/>
<circle cx="497.67" cy="102.17" r="1.95" fill="#006400"/>
<circle cx="500.81" cy="105.52" r="1.95" fill="#006400"/>
<circle cx="504.32" cy="109.46" r="1.95" fill="#006400"/>
<circle cx="508.2" cy="113.95" r="1.95" fill="#006400"/>
<circle cx="512.45" cy="119.02" r="1.95" fill="#006400"/>
<circle cx="517.07" cy="124.73" r="1.95" fill="#006400"/>
<circle cx="522.06" cy="130.57" r="1.95" fill="#006400"/>
<circle cx="527.41" cy="135.56" r="1.95" fill="#006400"/>
<circle cx="533.14" cy="140.94" r="1.95" fill="#006400"/>
<circle cx="539.24" cy="146.78" r="1.95" fill="#006400"/>
<circle cx="545.7" cy="152.86" r="1.95" fill="#006400"/>
<circle cx="552.54" cy="159.6" r="1.95" fill="#006400"/>
<circle cx="559.74" cy="166.6" r="1.95" fill="#006400"/>
<circle cx="567.31" cy="173.34" r="1.95" fill="#006400"/>
<circle cx="575.26" cy="180.38" r="1.95" fill="#006400"/>
<circle cx="583.57" cy="187.4" r="1.95" fill="#006400"/>
<circle cx="592.25" cy="194.4" r="1.95" fill="#006400"/>
<circle cx="601.3" cy="201.14" r="1.95" fill="#006400"/>
<circle cx="610.72" cy="208.46" r="1.95" fill="#006400"/>
<circle cx="620.51" cy="215.67" r="1.95" fill="#006400"/>
<circle cx="630.67" cy="222.59" r="1.95" fill="#006400"/>
<circle cx="641.2" cy="229.42" r="1.95" fill="#006400"/>
<circle cx="652.1" cy="235.78" r="1.95" fill="#006400"/>
<circle cx="663.37" cy="241.27" r="1.95" fill="#006400"/>
<circle cx="675.01" cy="245.99" r="1.95" fill="#006400"/>
<circle cx="687.01" cy="249.58" r="1.95" fill="#006400"/>
<circle cx="699.39" cy="252.58" r="1.95" fill="#006400"/>
<circle cx="712.14" cy="254.69" r="1.95" fill="#006400"/>
<circle cx="725.25" cy="256.14" r="1.95" fill="#006400"/>
<circle cx="738.74" cy="257.18" r="1.95" fill="#006400"/>
<circle cx="752.59" cy="257.84" r="1.95" fill="#006400"/>
<circle cx="766.81" cy="258.32" r="1.95" fill="#006400"/>
<circle cx="781.41" cy="258.63" r="1.95" fill="#006400"/>
<circle cx="796.37" cy="258.86" r="1.95" fill="#006400"/>
<g clip-path="url(#cr)">
<path d="M485.85 81.42L485.98 81.67L486.36 82.4L487 83.6L487.9 85.21L489.06 87.2L490.47 89.47L492.14 91.92L494.06 94.42L496.24 96.76L498.68 99L501.37 101.64L504.32 104.7L507.53 108.09L510.99 111.81L514.71 115.85L518.69 120.2L522.92 124.81L527.41 129.63L532.16 134.64L537.16 139.92L542.42 145.55L547.94 151.64L553.71 157.73L559.74 163.94L566.02 170.19L572.57 176.56L579.37 183.14L586.42 189.67L593.73 196.57L601.3 203.2L609.13 209.76L617.21 216.7L625.55 222.99L634.14 229.04L642.99 234.62L652.1 239.67L661.47 244.16L671.09 248.2L680.96 251.15L691.1 253.43L701.49 255.26L712.14 256.53L723.04 257.45L734.2 258.14L745.62 258.56L757.29 258.83L769.22 259.02L781.41 259.14L793.85 259.24L806.55 259.28" fill="none" stroke="#0000ff" stroke-width="1" stroke-linejoin="round"/>
<path d="M485.85 78.87L485.85 83.98M484.15 78.87L487.55 78.87M484.15 83.98L487.55 83.98M485.98 79.13L485.98 84.21M484.28 79.13L487.68 79.13M484.28 84.21L487.68 84.21M486.36 79.9L486.36 84.9M484.66 79.9L488.06 79.9M484.66 84.9L488.06 84.9M487 81.16L487 86.03M485.3 81.16L488.7 81.16M485.3 86.03L488.7 86.03M487.9 82.87L487.9 87.56M486.2 82.87L489.6 82.87M486.2 87.56L489.6 87.56M489.06 84.96L489.06 89.43M487.36 84.96L490.76 84.96M487.36 89.43L490.76 89.43M490.47 87.36L490.47 91.57M488.77 87.36L492.17 87.36M488.77 91.57L492.17 91.57M492.14 89.95L492.14 93.88M490.44 89.95L493.84 89.95M490.44 93.88L493.84 93.88M494.06 92.61L494.06 96.24M492.36 92.61L495.76 92.61M492.36 96.24L495.76 96.24M496.24 95.1L496.24 98.43M494.54 95.1L497.94 95.1M494.54 98.43L497.94 98.43M498.68 97.49L498.68 100.51M496.98 97.49L500.38 97.49M496.98 100.51L500.38 100.51M501.37 100.28L501.37 103.01M499.67 100.28L503.07 100.28M499.67 103.01L503.07 103.01M504.32 103.47L504.32 105.92M502.62 103.47L506.02 103.47M502.62 105.92L506.02 105.92" fill="none" stroke="#0000ff" stroke-width="0.6"/>
</g>
<rect x="484" y="79.57" width="3.7" height="3.7" fill="#0000ff"/>
<rect x="484.13" y="79.82" width="3.7" height="3.7" fill="#0000ff"/>
<rect x="484.51" y="80.55" width="3.7" height="3.7" fill="#0000ff"/>
<rect x="485.15" y="81.75" width="3.7" height="3.7" fill="#0000ff"/>
<rect x="486.05" y="83.36" width="3.7" height="3.7" fill="#0000ff"/>
<rect x="487.21" y="85.35" width="3.7" height="3.7" fill="#0000ff"/>
<rect x="488.62" y="87.62" width="3.7" height="3.7" fill="#0000ff"/>
<rect x="490.29" y="90.07" width="3.7" height="3.7" fill="#0000ff"/>
<rect x="492.21" y="92.57" width="3.7" height="3.7" fill="#0000ff"/>
<rect x="494.39" y="94.91" width="3.7" height="3.7" fill="#0000ff"/>
<rect x="496.83" y="97.15" width="3.7" height="3.7" fill="#0000ff"/>
<rect x="499.52" y="99.79" width="3.7" height="3.7" fill="#0000ff"/>
<rect x="502.47" y="102.85" width="3.7" height="3.7" fill="#0000ff"/>
<rect x="505.68" y="106.24" width="3.7" height="3.7" fill="#0000ff"/>
<rect x="509.14" y="109.96" width="3.7" height="3.7" fill="#0000ff"/>
<rect x="512.86" y="114" width="3.7" height="3.7" fill="#0000ff"/>
<rect x="516.84" y="118.35" width="3.7" height="3.7" fill="#0000ff"/>
<rect x="521.07" y="122.96" width="3.7" height="3.7" fill="#0000ff"/>
<rect x="525.56" y="127.78" width="3.7" height="3.7" fill="#0000ff"/>
<rect x="530.31" y="132.79" width="3.7" height="3.7" fill="#0000ff"/>
<rect x="535.31" y="138.07" width="3.7" height="3.7" fill="#0000ff"/>
<rect x="540.57" y="143.7" width="3.7" height="3.7" fill="#0000ff"/>
<rect x="546.09" y="149.79" width="3.7" height="3.7" fill="#0000ff"/>
<rect x="551.86" y="155.88" width="3.7" height="3.7" fill="#0000ff"/>
<rect x="557.89" y="162.09" width="3.7" height="3.7" fill="#0000ff"/>
<rect x="564.17" y="168.34" width="3.7" height="3.7" fill="#0000ff"/>
<rect x="570.72" y="174.71" width="3.7" height="3.7" fill="#0000ff"/>
<rect x="577.52" y="181.29" width="3.7" height="3.7" fill="#0000ff"/>
<rect x="584.57" y="187.82" width="3.7" height="3.7" fill="#0000ff"/>
<rect x="591.88" y="194.72" width="3.7" height="3.7" fill="#0000ff"/>
<rect x="599.45" y="201.35" width="3.7" height="3.7" fill="#0000ff"/>
<rect x="607.28" y="207.91" width="3.7" height="3.7" fill="#0000ff"/>
<rect x="615.36" y="214.85" width="3.7" height="3.7" fill="#0000ff"/>
<rect x="623.7" y="221.14" width="3.7" height="3.7" fill="#0000ff"/>
<rect x="632.29" y="227.19" width="3.7" height="3.7" fill="#0000ff"/>
<rect x="641.14" y="232.77" width="3.7" height="3.7" fill="#0000ff"/>
<rect x="650.25" y="237.82" width="3.7" height="3.7" fill="#0000ff"/>
<rect x="659.62" y="242.31" width="3.7" height="3.7" fill="#0000ff"/>
<rect x="669.24" y="246.35" width="3.7" height="3.7" fill="#0000ff"/>
<rect x="679.11" y="249.3" width="3.7" height="3.7" fill="#0000ff"/>
<rect x="689.25" y="251.58" width="3.7" height="3.7" fill="#0000ff"/>
<rect x="699.64" y="253.41" width="3.7" height="3.7" fill="#0000ff"/>
<rect x="710.29" y="254.68" width="3.7" height="3.7" fill="#0000ff"/>
<rect x="721.19" y="255.6" width="3.7" height="3.7" fill="#0000ff"/>
<rect x="732.35" y="256.29" width="3.7" height="3.7" fill="#0000ff"/>
<rect x="743.77" y="256.71" width="3.7" height="3.7" fill="#0000ff"/>
<rect x="755.44" y="256.98" width="3.7" height="3.7" fill="#0000ff"/>
<rect x="767.37" y="257.17" width="3.7" height="3.7" fill="#0000ff"/>
<rect x="779.56" y="257.29" width="3.7" height="3.7" fill="#0000ff"/>
<rect x="792" y="257.39" width="3.7" height="3.7" fill="#0000ff"/>
<rect x="804.7" y="257.43" width="3.7" height="3.7" fill="#0000ff"/>
<g clip-path="url(#cr)">
<path d="M485.85 59.54L485.98 59.81L486.36 60.61L487 61.93L487.9 63.73L489.06 65.94L490.47 68.45L492.14 71.11L494.06 73.83L496.24 76.69L498.68 79.9L501.37 83.71L504.32 88.02L507.53 92.69L510.99 97.54L514.71 102.34L518.69 107.12L522.92 112.09L527.41 117.53L532.16 123.61L537.16 130.32L542.42 137.57L547.94 145.22L553.71 153.06L559.74 160.84L566.02 168.27L572.57 176.15L579.37 183.75L586.42 191.24L593.73 199.16L601.3 206.44L609.13 214.26L617.21 221.75L625.55 228.82L634.14 235.12L642.99 240.52L652.1 245.11L661.47 248.72L671.09 251.64L680.96 253.93L691.1 255.71L701.49 257.05L712.14 257.92L723.04 258.49L734.2 258.89L745.62 259.08L757.29 259.19L769.22 259.28L781.41 259.34L793.85 259.39L806.55 259.4" fill="none" stroke="#c6440c" stroke-width="1" stroke-linejoin="round"/>
<path d="M485.85 56.39L485.85 62.69M484.15 56.39L487.55 56.39M484.15 62.69L487.55 62.69M485.98 56.67L485.98 62.95M484.28 56.67L487.68 56.67M484.28 62.95L487.68 62.95M486.36 57.52L486.36 63.71M484.66 57.52L488.06 57.52M484.66 63.71L488.06 63.71M487 58.91L487 64.95M485.3 58.91L488.7 58.91M485.3 64.95L488.7 64.95M487.9 60.81L487.9 66.65M486.2 60.81L489.6 60.81M486.2 66.65L489.6 66.65M489.06 63.14L489.06 68.74M487.36 63.14L490.76 63.14M487.36 68.74L490.76 68.74M490.47 65.79L490.47 71.12M488.77 65.79L492.17 65.79M488.77 71.12L492.17 71.12M492.14 68.6L492.14 73.62M490.44 68.6L493.84 68.6M490.44 73.62L493.84 73.62M494.06 71.48L494.06 76.18M492.36 71.48L495.76 71.48M492.36 76.18L495.76 76.18M496.24 74.5L496.24 78.87M494.54 74.5L497.94 74.5M494.54 78.87L497.94 78.87M498.68 77.88L498.68 81.92M496.98 77.88L500.38 77.88M496.98 81.92L500.38 81.92M501.37 81.86L501.37 85.57M499.67 81.86L503.07 81.86M499.67 85.57L503.07 85.57M504.32 86.31L504.32 89.72M502.62 86.31L506.02 86.31M502.62 89.72L506.02 89.72M507.53 91.13L507.53 94.25M505.83 91.13L509.23 91.13M505.83 94.25L509.23 94.25M510.99 96.11L510.99 98.97M509.29 96.11L512.69 96.11M509.29 98.97L512.69 98.97M514.71 101.03L514.71 103.64M513.01 101.03L516.41 101.03M513.01 103.64L516.41 103.64" fill="none" stroke="#c6440c" stroke-width="0.6"/>
</g>
<rect x="484.15" y="57.84" width="3.4" height="3.4" fill="#c6440c" fill-opacity="0.12" stroke="#c6440c" stroke-width="1.0"/>
<rect x="484.28" y="58.11" width="3.4" height="3.4" fill="#c6440c" fill-opacity="0.12" stroke="#c6440c" stroke-width="1.0"/>
<rect x="484.66" y="58.91" width="3.4" height="3.4" fill="#c6440c" fill-opacity="0.12" stroke="#c6440c" stroke-width="1.0"/>
<rect x="485.3" y="60.23" width="3.4" height="3.4" fill="#c6440c" fill-opacity="0.12" stroke="#c6440c" stroke-width="1.0"/>
<rect x="486.2" y="62.03" width="3.4" height="3.4" fill="#c6440c" fill-opacity="0.12" stroke="#c6440c" stroke-width="1.0"/>
<rect x="487.36" y="64.24" width="3.4" height="3.4" fill="#c6440c" fill-opacity="0.12" stroke="#c6440c" stroke-width="1.0"/>
<rect x="488.77" y="66.75" width="3.4" height="3.4" fill="#c6440c" fill-opacity="0.12" stroke="#c6440c" stroke-width="1.0"/>
<rect x="490.44" y="69.41" width="3.4" height="3.4" fill="#c6440c" fill-opacity="0.12" stroke="#c6440c" stroke-width="1.0"/>
<rect x="492.36" y="72.13" width="3.4" height="3.4" fill="#c6440c" fill-opacity="0.12" stroke="#c6440c" stroke-width="1.0"/>
<rect x="494.54" y="74.99" width="3.4" height="3.4" fill="#c6440c" fill-opacity="0.12" stroke="#c6440c" stroke-width="1.0"/>
<rect x="496.98" y="78.2" width="3.4" height="3.4" fill="#c6440c" fill-opacity="0.12" stroke="#c6440c" stroke-width="1.0"/>
<rect x="499.67" y="82.01" width="3.4" height="3.4" fill="#c6440c" fill-opacity="0.12" stroke="#c6440c" stroke-width="1.0"/>
<rect x="502.62" y="86.32" width="3.4" height="3.4" fill="#c6440c" fill-opacity="0.12" stroke="#c6440c" stroke-width="1.0"/>
<rect x="505.83" y="90.99" width="3.4" height="3.4" fill="#c6440c" fill-opacity="0.12" stroke="#c6440c" stroke-width="1.0"/>
<rect x="509.29" y="95.84" width="3.4" height="3.4" fill="#c6440c" fill-opacity="0.12" stroke="#c6440c" stroke-width="1.0"/>
<rect x="513.01" y="100.64" width="3.4" height="3.4" fill="#c6440c" fill-opacity="0.12" stroke="#c6440c" stroke-width="1.0"/>
<rect x="516.99" y="105.42" width="3.4" height="3.4" fill="#c6440c" fill-opacity="0.12" stroke="#c6440c" stroke-width="1.0"/>
<rect x="521.22" y="110.39" width="3.4" height="3.4" fill="#c6440c" fill-opacity="0.12" stroke="#c6440c" stroke-width="1.0"/>
<rect x="525.71" y="115.83" width="3.4" height="3.4" fill="#c6440c" fill-opacity="0.12" stroke="#c6440c" stroke-width="1.0"/>
<rect x="530.46" y="121.91" width="3.4" height="3.4" fill="#c6440c" fill-opacity="0.12" stroke="#c6440c" stroke-width="1.0"/>
<rect x="535.46" y="128.62" width="3.4" height="3.4" fill="#c6440c" fill-opacity="0.12" stroke="#c6440c" stroke-width="1.0"/>
<rect x="540.72" y="135.87" width="3.4" height="3.4" fill="#c6440c" fill-opacity="0.12" stroke="#c6440c" stroke-width="1.0"/>
<rect x="546.24" y="143.52" width="3.4" height="3.4" fill="#c6440c" fill-opacity="0.12" stroke="#c6440c" stroke-width="1.0"/>
<rect x="552.01" y="151.36" width="3.4" height="3.4" fill="#c6440c" fill-opacity="0.12" stroke="#c6440c" stroke-width="1.0"/>
<rect x="558.04" y="159.14" width="3.4" height="3.4" fill="#c6440c" fill-opacity="0.12" stroke="#c6440c" stroke-width="1.0"/>
<rect x="564.32" y="166.57" width="3.4" height="3.4" fill="#c6440c" fill-opacity="0.12" stroke="#c6440c" stroke-width="1.0"/>
<rect x="570.87" y="174.45" width="3.4" height="3.4" fill="#c6440c" fill-opacity="0.12" stroke="#c6440c" stroke-width="1.0"/>
<rect x="577.67" y="182.05" width="3.4" height="3.4" fill="#c6440c" fill-opacity="0.12" stroke="#c6440c" stroke-width="1.0"/>
<rect x="584.72" y="189.54" width="3.4" height="3.4" fill="#c6440c" fill-opacity="0.12" stroke="#c6440c" stroke-width="1.0"/>
<rect x="592.03" y="197.46" width="3.4" height="3.4" fill="#c6440c" fill-opacity="0.12" stroke="#c6440c" stroke-width="1.0"/>
<rect x="599.6" y="204.74" width="3.4" height="3.4" fill="#c6440c" fill-opacity="0.12" stroke="#c6440c" stroke-width="1.0"/>
<rect x="607.43" y="212.56" width="3.4" height="3.4" fill="#c6440c" fill-opacity="0.12" stroke="#c6440c" stroke-width="1.0"/>
<rect x="615.51" y="220.05" width="3.4" height="3.4" fill="#c6440c" fill-opacity="0.12" stroke="#c6440c" stroke-width="1.0"/>
<rect x="623.85" y="227.12" width="3.4" height="3.4" fill="#c6440c" fill-opacity="0.12" stroke="#c6440c" stroke-width="1.0"/>
<rect x="632.44" y="233.42" width="3.4" height="3.4" fill="#c6440c" fill-opacity="0.12" stroke="#c6440c" stroke-width="1.0"/>
<rect x="641.29" y="238.82" width="3.4" height="3.4" fill="#c6440c" fill-opacity="0.12" stroke="#c6440c" stroke-width="1.0"/>
<rect x="650.4" y="243.41" width="3.4" height="3.4" fill="#c6440c" fill-opacity="0.12" stroke="#c6440c" stroke-width="1.0"/>
<rect x="659.77" y="247.02" width="3.4" height="3.4" fill="#c6440c" fill-opacity="0.12" stroke="#c6440c" stroke-width="1.0"/>
<rect x="669.39" y="249.94" width="3.4" height="3.4" fill="#c6440c" fill-opacity="0.12" stroke="#c6440c" stroke-width="1.0"/>
<rect x="679.26" y="252.23" width="3.4" height="3.4" fill="#c6440c" fill-opacity="0.12" stroke="#c6440c" stroke-width="1.0"/>
<rect x="689.4" y="254.01" width="3.4" height="3.4" fill="#c6440c" fill-opacity="0.12" stroke="#c6440c" stroke-width="1.0"/>
<rect x="699.79" y="255.35" width="3.4" height="3.4" fill="#c6440c" fill-opacity="0.12" stroke="#c6440c" stroke-width="1.0"/>
<rect x="710.44" y="256.22" width="3.4" height="3.4" fill="#c6440c" fill-opacity="0.12" stroke="#c6440c" stroke-width="1.0"/>
<rect x="721.34" y="256.79" width="3.4" height="3.4" fill="#c6440c" fill-opacity="0.12" stroke="#c6440c" stroke-width="1.0"/>
<rect x="732.5" y="257.19" width="3.4" height="3.4" fill="#c6440c" fill-opacity="0.12" stroke="#c6440c" stroke-width="1.0"/>
<rect x="743.92" y="257.38" width="3.4" height="3.4" fill="#c6440c" fill-opacity="0.12" stroke="#c6440c" stroke-width="1.0"/>
<rect x="755.59" y="257.49" width="3.4" height="3.4" fill="#c6440c" fill-opacity="0.12" stroke="#c6440c" stroke-width="1.0"/>
<rect x="767.52" y="257.58" width="3.4" height="3.4" fill="#c6440c" fill-opacity="0.12" stroke="#c6440c" stroke-width="1.0"/>
<rect x="779.71" y="257.64" width="3.4" height="3.4" fill="#c6440c" fill-opacity="0.12" stroke="#c6440c" stroke-width="1.0"/>
<rect x="792.15" y="257.69" width="3.4" height="3.4" fill="#c6440c" fill-opacity="0.12" stroke="#c6440c" stroke-width="1.0"/>
<rect x="804.85" y="257.7" width="3.4" height="3.4" fill="#c6440c" fill-opacity="0.12" stroke="#c6440c" stroke-width="1.0"/>
<g clip-path="url(#cr)">
<path d="M485.85 42.23L485.98 42.62L486.36 43.8L487 45.73L487.9 48.29L489.06 51.13L490.47 54L492.14 56.98L494.06 60.04L496.24 63.3L498.68 67.03L501.37 71.35L504.32 76.04L507.53 81.07L510.99 86.43L514.71 92.1L518.69 98.08L522.92 104.37L527.41 110.96L532.16 117.82L537.16 124.92L542.42 132.17L547.94 139.63L553.71 147.65L559.74 156.16L566.02 165.22L572.57 174.47L579.37 183.72L586.42 192.72L593.73 201.85L601.3 210.59L609.13 218.7L617.21 226.55L625.55 233.68L634.14 240.02L642.99 245.36L652.1 249.67L661.47 252.71L671.09 254.97L680.96 256.54L691.1 257.65L701.49 258.39L712.14 258.81L723.04 259.03L734.2 259.18L745.62 259.26L757.29 259.3L769.22 259.34L781.41 259.37L793.85 259.39L806.55 259.4" fill="none" stroke="#000000" stroke-width="1.15" stroke-linejoin="round"/>
<path d="M485.85 33.6L485.85 50.87M484.15 33.6L487.55 33.6M484.15 50.87L487.55 50.87M485.98 34.04L485.98 51.21M484.28 34.04L487.68 34.04M484.28 51.21L487.68 51.21M486.36 35.36L486.36 52.24M484.66 35.36L488.06 35.36M484.66 52.24L488.06 52.24M487 37.53L487 53.94M485.3 37.53L488.7 37.53M485.3 53.94L488.7 53.94M487.9 40.41L487.9 56.18M486.2 40.41L489.6 40.41M486.2 56.18L489.6 56.18M489.06 43.64L489.06 58.63M487.36 43.64L490.76 43.64M487.36 58.63L490.76 58.63M490.47 46.95L490.47 61.04M488.77 46.95L492.17 46.95M488.77 61.04L492.17 61.04M492.14 50.43L492.14 63.53M490.44 50.43L493.84 50.43M490.44 63.53L493.84 63.53M494.06 54.02L494.06 66.07M492.36 54.02L495.76 54.02M492.36 66.07L495.76 66.07M496.24 57.81L496.24 68.79M494.54 57.81L497.94 57.81M494.54 68.79L497.94 68.79M498.68 62.08L498.68 71.99M496.98 62.08L500.38 62.08M496.98 71.99L500.38 71.99M501.37 66.92L501.37 75.78M499.67 66.92L503.07 66.92M499.67 75.78L503.07 75.78M504.32 72.11L504.32 79.96M502.62 72.11L506.02 72.11M502.62 79.96L506.02 79.96M507.53 77.62L507.53 84.53M505.83 77.62L509.23 77.62M505.83 84.53L509.23 84.53M510.99 83.41L510.99 89.45M509.29 83.41L512.69 83.41M509.29 89.45L512.69 89.45M514.71 89.47L514.71 94.73M513.01 89.47L516.41 89.47M513.01 94.73L516.41 94.73M518.69 95.79L518.69 100.36M516.99 95.79L520.39 95.79M516.99 100.36L520.39 100.36M522.92 102.4L522.92 106.35M521.22 102.4L524.62 102.4M521.22 106.35L524.62 106.35M527.41 109.25L527.41 112.68M525.71 109.25L529.11 109.25M525.71 112.68L529.11 112.68M532.16 116.33L532.16 119.32M530.46 116.33L533.86 116.33M530.46 119.32L533.86 119.32M537.16 123.61L537.16 126.23M535.46 123.61L538.86 123.61M535.46 126.23L538.86 126.23" fill="none" stroke="#000000" stroke-width="0.6"/>
</g>
<circle cx="485.85" cy="42.23" r="1.75" fill="#000000" fill-opacity="0.1" stroke="#000000" stroke-width="1.05"/>
<circle cx="485.98" cy="42.62" r="1.75" fill="#000000" fill-opacity="0.1" stroke="#000000" stroke-width="1.05"/>
<circle cx="486.36" cy="43.8" r="1.75" fill="#000000" fill-opacity="0.1" stroke="#000000" stroke-width="1.05"/>
<circle cx="487" cy="45.73" r="1.75" fill="#000000" fill-opacity="0.1" stroke="#000000" stroke-width="1.05"/>
<circle cx="487.9" cy="48.29" r="1.75" fill="#000000" fill-opacity="0.1" stroke="#000000" stroke-width="1.05"/>
<circle cx="489.06" cy="51.13" r="1.75" fill="#000000" fill-opacity="0.1" stroke="#000000" stroke-width="1.05"/>
<circle cx="490.47" cy="54" r="1.75" fill="#000000" fill-opacity="0.1" stroke="#000000" stroke-width="1.05"/>
<circle cx="492.14" cy="56.98" r="1.75" fill="#000000" fill-opacity="0.1" stroke="#000000" stroke-width="1.05"/>
<circle cx="494.06" cy="60.04" r="1.75" fill="#000000" fill-opacity="0.1" stroke="#000000" stroke-width="1.05"/>
<circle cx="496.24" cy="63.3" r="1.75" fill="#000000" fill-opacity="0.1" stroke="#000000" stroke-width="1.05"/>
<circle cx="498.68" cy="67.03" r="1.75" fill="#000000" fill-opacity="0.1" stroke="#000000" stroke-width="1.05"/>
<circle cx="501.37" cy="71.35" r="1.75" fill="#000000" fill-opacity="0.1" stroke="#000000" stroke-width="1.05"/>
<circle cx="504.32" cy="76.04" r="1.75" fill="#000000" fill-opacity="0.1" stroke="#000000" stroke-width="1.05"/>
<circle cx="507.53" cy="81.07" r="1.75" fill="#000000" fill-opacity="0.1" stroke="#000000" stroke-width="1.05"/>
<circle cx="510.99" cy="86.43" r="1.75" fill="#000000" fill-opacity="0.1" stroke="#000000" stroke-width="1.05"/>
<circle cx="514.71" cy="92.1" r="1.75" fill="#000000" fill-opacity="0.1" stroke="#000000" stroke-width="1.05"/>
<circle cx="518.69" cy="98.08" r="1.75" fill="#000000" fill-opacity="0.1" stroke="#000000" stroke-width="1.05"/>
<circle cx="522.92" cy="104.37" r="1.75" fill="#000000" fill-opacity="0.1" stroke="#000000" stroke-width="1.05"/>
<circle cx="527.41" cy="110.96" r="1.75" fill="#000000" fill-opacity="0.1" stroke="#000000" stroke-width="1.05"/>
<circle cx="532.16" cy="117.82" r="1.75" fill="#000000" fill-opacity="0.1" stroke="#000000" stroke-width="1.05"/>
<circle cx="537.16" cy="124.92" r="1.75" fill="#000000" fill-opacity="0.1" stroke="#000000" stroke-width="1.05"/>
<circle cx="542.42" cy="132.17" r="1.75" fill="#000000" fill-opacity="0.1" stroke="#000000" stroke-width="1.05"/>
<circle cx="547.94" cy="139.63" r="1.75" fill="#000000" fill-opacity="0.1" stroke="#000000" stroke-width="1.05"/>
<circle cx="553.71" cy="147.65" r="1.75" fill="#000000" fill-opacity="0.1" stroke="#000000" stroke-width="1.05"/>
<circle cx="559.74" cy="156.16" r="1.75" fill="#000000" fill-opacity="0.1" stroke="#000000" stroke-width="1.05"/>
<circle cx="566.02" cy="165.22" r="1.75" fill="#000000" fill-opacity="0.1" stroke="#000000" stroke-width="1.05"/>
<circle cx="572.57" cy="174.47" r="1.75" fill="#000000" fill-opacity="0.1" stroke="#000000" stroke-width="1.05"/>
<circle cx="579.37" cy="183.72" r="1.75" fill="#000000" fill-opacity="0.1" stroke="#000000" stroke-width="1.05"/>
<circle cx="586.42" cy="192.72" r="1.75" fill="#000000" fill-opacity="0.1" stroke="#000000" stroke-width="1.05"/>
<circle cx="593.73" cy="201.85" r="1.75" fill="#000000" fill-opacity="0.1" stroke="#000000" stroke-width="1.05"/>
<circle cx="601.3" cy="210.59" r="1.75" fill="#000000" fill-opacity="0.1" stroke="#000000" stroke-width="1.05"/>
<circle cx="609.13" cy="218.7" r="1.75" fill="#000000" fill-opacity="0.1" stroke="#000000" stroke-width="1.05"/>
<circle cx="617.21" cy="226.55" r="1.75" fill="#000000" fill-opacity="0.1" stroke="#000000" stroke-width="1.05"/>
<circle cx="625.55" cy="233.68" r="1.75" fill="#000000" fill-opacity="0.1" stroke="#000000" stroke-width="1.05"/>
<circle cx="634.14" cy="240.02" r="1.75" fill="#000000" fill-opacity="0.1" stroke="#000000" stroke-width="1.05"/>
<circle cx="642.99" cy="245.36" r="1.75" fill="#000000" fill-opacity="0.1" stroke="#000000" stroke-width="1.05"/>
<circle cx="652.1" cy="249.67" r="1.75" fill="#000000" fill-opacity="0.1" stroke="#000000" stroke-width="1.05"/>
<circle cx="661.47" cy="252.71" r="1.75" fill="#000000" fill-opacity="0.1" stroke="#000000" stroke-width="1.05"/>
<circle cx="671.09" cy="254.97" r="1.75" fill="#000000" fill-opacity="0.1" stroke="#000000" stroke-width="1.05"/>
<circle cx="680.96" cy="256.54" r="1.75" fill="#000000" fill-opacity="0.1" stroke="#000000" stroke-width="1.05"/>
<circle cx="691.1" cy="257.65" r="1.75" fill="#000000" fill-opacity="0.1" stroke="#000000" stroke-width="1.05"/>
<circle cx="701.49" cy="258.39" r="1.75" fill="#000000" fill-opacity="0.1" stroke="#000000" stroke-width="1.05"/>
<circle cx="712.14" cy="258.81" r="1.75" fill="#000000" fill-opacity="0.1" stroke="#000000" stroke-width="1.05"/>
<circle cx="723.04" cy="259.03" r="1.75" fill="#000000" fill-opacity="0.1" stroke="#000000" stroke-width="1.05"/>
<circle cx="734.2" cy="259.18" r="1.75" fill="#000000" fill-opacity="0.1" stroke="#000000" stroke-width="1.05"/>
<circle cx="745.62" cy="259.26" r="1.75" fill="#000000" fill-opacity="0.1" stroke="#000000" stroke-width="1.05"/>
<circle cx="757.29" cy="259.3" r="1.75" fill="#000000" fill-opacity="0.1" stroke="#000000" stroke-width="1.05"/>
<circle cx="769.22" cy="259.34" r="1.75" fill="#000000" fill-opacity="0.1" stroke="#000000" stroke-width="1.05"/>
<circle cx="781.41" cy="259.37" r="1.75" fill="#000000" fill-opacity="0.1" stroke="#000000" stroke-width="1.05"/>
<circle cx="793.85" cy="259.39" r="1.75" fill="#000000" fill-opacity="0.1" stroke="#000000" stroke-width="1.05"/>
<circle cx="806.55" cy="259.4" r="1.75" fill="#000000" fill-opacity="0.1" stroke="#000000" stroke-width="1.05"/>
<g clip-path="url(#cr)">
</g>
<rect x="195.6" y="30.2" width="154.45" height="119.2" fill="#fff"/>
<path d="M195.6 30.2L350.05 30.2" stroke="#6a6a6a" stroke-width="1.35" stroke-linecap="square" fill="none"/>
<path d="M195.6 149.4L195.6 30.2" stroke="#000" stroke-width="1.05" stroke-linecap="square" fill="none"/>
<path d="M350.05 149.4L350.05 30.2" stroke="#3a3a3a" stroke-width="1.1" stroke-linecap="square" fill="none"/>
<path d="M195.6 149.4L350.05 149.4" stroke="#262626" stroke-width="1.1" stroke-linecap="square" fill="none"/>
<path d="M247.08 149.4L247.08 146.2" stroke="#555" stroke-width="0.8"/>
<text x="249.28" y="165.3" font-size="16.4" text-anchor="middle" textLength="22.9" lengthAdjust="spacingAndGlyphs">0.4</text>
<path d="M311.44 149.4L311.44 146.2" stroke="#555" stroke-width="0.8"/>
<text x="313.64" y="165.3" font-size="16.4" text-anchor="middle" textLength="32.9" lengthAdjust="spacingAndGlyphs">0.45</text>
<path d="M195.6 119.5L198.8 119.5" stroke="#555" stroke-width="0.8"/>
<text x="189.6" y="124.7" font-size="16.4" text-anchor="end" textLength="32.9" lengthAdjust="spacingAndGlyphs">0.09</text>
<path d="M195.6 80.5L198.8 80.5" stroke="#555" stroke-width="0.8"/>
<text x="189.6" y="85.7" font-size="16.4" text-anchor="end" textLength="32.9" lengthAdjust="spacingAndGlyphs">0.11</text>
<path d="M195.6 41.5L198.8 41.5" stroke="#555" stroke-width="0.8"/>
<text x="189.6" y="46.7" font-size="16.4" text-anchor="end" textLength="32.9" lengthAdjust="spacingAndGlyphs">0.13</text>
<g clip-path="url(#cil)">
<path d="M159.27 37.97L195.6 62.36L233.41 87.69L272.7 113.57L313.48 138.53L355.73 161.76L399.47 183.29" fill="none" stroke="#ff0000" stroke-width="0.92" stroke-linejoin="round"/>
</g>
<path d="M193.13 63.69L198.07 63.69L195.6 59.42Z" fill="#ff0000"/>
<path d="M230.94 89.02L235.88 89.02L233.41 84.75Z" fill="#ff0000"/>
<path d="M270.23 114.9L275.17 114.9L272.7 110.63Z" fill="#ff0000"/>
<path d="M311.01 139.86L315.95 139.86L313.48 135.58Z" fill="#ff0000"/>
<g clip-path="url(#cil)">
<path d="M159.27 12.81L195.6 42.08L233.41 73.84L272.7 105.17L313.48 135.19L355.73 164.87L399.47 192.46" fill="none" stroke="#006400" stroke-width="0.92" stroke-linejoin="round"/>
</g>
<circle cx="195.6" cy="42.08" r="1.85" fill="#006400"/>
<circle cx="233.41" cy="73.84" r="1.85" fill="#006400"/>
<circle cx="272.7" cy="105.17" r="1.85" fill="#006400"/>
<circle cx="313.48" cy="135.19" r="1.85" fill="#006400"/>
<g clip-path="url(#cil)">
<path d="M135.88 -40.01L165.22 -6.86L195.6 24.98L227 56.51L259.44 89.86L292.9 120.09L327.4 149.14L362.92 175.92L399.47 200.18" fill="none" stroke="#0000ff" stroke-width="0.92" stroke-linejoin="round"/>
</g>
<rect x="225.25" y="54.76" width="3.52" height="3.52" fill="#0000ff"/>
<rect x="257.68" y="88.1" width="3.52" height="3.52" fill="#0000ff"/>
<rect x="291.15" y="118.33" width="3.52" height="3.52" fill="#0000ff"/>
<rect x="325.64" y="147.38" width="3.52" height="3.52" fill="#0000ff"/>
<g clip-path="url(#cil)">
<path d="M135.88 -82.71L165.22 -38.84L195.6 1.53L227 44.81L259.44 86.35L292.9 125.55L327.4 160.45L362.92 190.34L399.47 215.79" fill="none" stroke="#c6440c" stroke-width="0.92" stroke-linejoin="round"/>
<path d="M135.88 -85.52L135.88 -79.91M134.18 -85.52L137.58 -85.52M134.18 -79.91L137.58 -79.91M165.22 -41.63L165.22 -36.05M163.52 -41.63L166.92 -41.63M163.52 -36.05L166.92 -36.05M195.6 -1.24L195.6 4.29M193.9 -1.24L197.3 -1.24M193.9 4.29L197.3 4.29M227 42.06L227 47.57M225.3 42.06L228.7 42.06M225.3 47.57L228.7 47.57M259.44 83.6L259.44 89.1M257.74 83.6L261.14 83.6M257.74 89.1L261.14 89.1M292.9 122.8L292.9 128.29M291.2 122.8L294.6 122.8M291.2 128.29L294.6 128.29M327.4 157.71L327.4 163.19M325.7 157.71L329.1 157.71M325.7 163.19L329.1 163.19M362.92 187.61L362.92 193.08M361.22 187.61L364.62 187.61M361.22 193.08L364.62 193.08M399.47 213.06L399.47 218.52M397.77 213.06L401.17 213.06M397.77 218.52L401.17 218.52" fill="none" stroke="#c6440c" stroke-width="0.6"/>
</g>
<rect x="225.39" y="43.2" width="3.23" height="3.23" fill="#c6440c" fill-opacity="0.12" stroke="#c6440c" stroke-width="1.0"/>
<rect x="257.82" y="84.73" width="3.23" height="3.23" fill="#c6440c" fill-opacity="0.12" stroke="#c6440c" stroke-width="1.0"/>
<rect x="291.29" y="123.93" width="3.23" height="3.23" fill="#c6440c" fill-opacity="0.12" stroke="#c6440c" stroke-width="1.0"/>
<g clip-path="url(#cil)">
<path d="M135.88 -113.91L165.22 -57.95L195.6 -4.33L227 45.4L259.44 93.56L292.9 137.25L327.4 176.14L362.92 208.92L399.47 235.34" fill="none" stroke="#000000" stroke-width="1.06" stroke-linejoin="round"/>
<path d="M135.88 -116.93L135.88 -110.9M134.18 -116.93L137.58 -116.93M134.18 -110.9L137.58 -110.9M165.22 -60.88L165.22 -55.02M163.52 -60.88L166.92 -60.88M163.52 -55.02L166.92 -55.02M195.6 -7.19L195.6 -1.46M193.9 -7.19L197.3 -7.19M193.9 -1.46L197.3 -1.46M227 42.58L227 48.22M225.3 42.58L228.7 42.58M225.3 48.22L228.7 48.22M259.44 90.77L259.44 96.36M257.74 90.77L261.14 90.77M257.74 96.36L261.14 96.36M292.9 134.47L292.9 140.02M291.2 134.47L294.6 134.47M291.2 140.02L294.6 140.02M327.4 173.38L327.4 178.9M325.7 173.38L329.1 173.38M325.7 178.9L329.1 178.9M362.92 206.17L362.92 211.66M361.22 206.17L364.62 206.17M361.22 211.66L364.62 211.66M399.47 232.6L399.47 238.08M397.77 232.6L401.17 232.6M397.77 238.08L401.17 238.08" fill="none" stroke="#000000" stroke-width="0.6"/>
</g>
<circle cx="227" cy="45.4" r="1.66" fill="#000000" fill-opacity="0.1" stroke="#000000" stroke-width="1.05"/>
<circle cx="259.44" cy="93.56" r="1.66" fill="#000000" fill-opacity="0.1" stroke="#000000" stroke-width="1.05"/>
<circle cx="292.9" cy="137.25" r="1.66" fill="#000000" fill-opacity="0.1" stroke="#000000" stroke-width="1.05"/>
<g clip-path="url(#cil)">
</g>
<rect x="610.6" y="30.2" width="154.45" height="119.2" fill="#fff"/>
<path d="M610.6 30.2L765.05 30.2" stroke="#6a6a6a" stroke-width="1.35" stroke-linecap="square" fill="none"/>
<path d="M610.6 149.4L610.6 30.2" stroke="#000" stroke-width="1.05" stroke-linecap="square" fill="none"/>
<path d="M765.05 149.4L765.05 30.2" stroke="#3a3a3a" stroke-width="1.1" stroke-linecap="square" fill="none"/>
<path d="M610.6 149.4L765.05 149.4" stroke="#262626" stroke-width="1.1" stroke-linecap="square" fill="none"/>
<path d="M649.21 149.4L649.21 146.2" stroke="#555" stroke-width="0.8"/>
<text x="651.41" y="165.3" font-size="16.4" text-anchor="middle" textLength="32.9" lengthAdjust="spacingAndGlyphs">0.25</text>
<path d="M713.57 149.4L713.57 146.2" stroke="#555" stroke-width="0.8"/>
<text x="715.77" y="165.3" font-size="16.4" text-anchor="middle" textLength="22.9" lengthAdjust="spacingAndGlyphs">0.3</text>
<path d="M610.6 117.5L613.8 117.5" stroke="#555" stroke-width="0.8"/>
<text x="604.6" y="122.7" font-size="16.4" text-anchor="end" textLength="32.9" lengthAdjust="spacingAndGlyphs">0.06</text>
<path d="M610.6 77.5L613.8 77.5" stroke="#555" stroke-width="0.8"/>
<text x="604.6" y="82.7" font-size="16.4" text-anchor="end" textLength="32.9" lengthAdjust="spacingAndGlyphs">0.08</text>
<path d="M610.6 37.5L613.8 37.5" stroke="#555" stroke-width="0.8"/>
<text x="604.6" y="42.7" font-size="16.4" text-anchor="end" textLength="32.9" lengthAdjust="spacingAndGlyphs">0.10</text>
<g clip-path="url(#cir)">
<path d="M567.64 40.82L595.07 51.86L623.99 63.65L654.38 74.69L686.26 86.1L719.62 97.82L754.47 109.91L790.79 122.02" fill="none" stroke="#ff0000" stroke-width="0.92" stroke-linejoin="round"/>
</g>
<path d="M621.52 64.98L626.46 64.98L623.99 60.7Z" fill="#ff0000"/>
<path d="M651.91 76.02L656.85 76.02L654.38 71.74Z" fill="#ff0000"/>
<path d="M683.79 87.43L688.73 87.43L686.26 83.15Z" fill="#ff0000"/>
<path d="M717.15 99.15L722.09 99.15L719.62 94.87Z" fill="#ff0000"/>
<path d="M752 111.24L756.94 111.24L754.47 106.96Z" fill="#ff0000"/>
<g clip-path="url(#cir)">
<path d="M567.64 38.27L595.07 50.87L623.99 63.96L654.38 76.56L686.26 89.74L719.62 102.85L754.47 115.94L790.79 128.55" fill="none" stroke="#006400" stroke-width="0.92" stroke-linejoin="round"/>
</g>
<circle cx="623.99" cy="63.96" r="1.85" fill="#006400"/>
<circle cx="654.38" cy="76.56" r="1.85" fill="#006400"/>
<circle cx="686.26" cy="89.74" r="1.85" fill="#006400"/>
<circle cx="719.62" cy="102.85" r="1.85" fill="#006400"/>
<circle cx="754.47" cy="115.94" r="1.85" fill="#006400"/>
<g clip-path="url(#cir)">
<path d="M554.48 24.6L576.62 35.99L599.79 47.37L623.99 58.98L649.21 70.67L675.47 82.59L702.76 94.88L731.07 107.1L760.42 120.01L790.79 132.4L822.2 144.67" fill="none" stroke="#0000ff" stroke-width="0.92" stroke-linejoin="round"/>
</g>
<rect x="622.23" y="57.23" width="3.52" height="3.52" fill="#0000ff"/>
<rect x="647.45" y="68.91" width="3.52" height="3.52" fill="#0000ff"/>
<rect x="673.71" y="80.83" width="3.52" height="3.52" fill="#0000ff"/>
<rect x="701" y="93.13" width="3.52" height="3.52" fill="#0000ff"/>
<rect x="729.31" y="105.35" width="3.52" height="3.52" fill="#0000ff"/>
<rect x="758.66" y="118.25" width="3.52" height="3.52" fill="#0000ff"/>
<g clip-path="url(#cir)">
<path d="M554.48 9.68L576.62 23.98L599.79 38.65L623.99 53.19L649.21 67.08L675.47 81.82L702.76 96.03L731.07 110.05L760.42 124.85L790.79 138.47L822.2 153.08" fill="none" stroke="#c6440c" stroke-width="0.92" stroke-linejoin="round"/>
<path d="M554.48 8.09L554.48 11.28M552.78 8.09L556.18 8.09M552.78 11.28L556.18 11.28M576.62 22.46L576.62 25.51M574.92 22.46L578.32 22.46M574.92 25.51L578.32 25.51M599.79 37.18L599.79 40.12M598.09 37.18L601.49 37.18M598.09 40.12L601.49 40.12M623.99 51.77L623.99 54.62M622.29 51.77L625.69 51.77M622.29 54.62L625.69 54.62M649.21 65.69L649.21 68.47M647.51 65.69L650.91 65.69M647.51 68.47L650.91 68.47M675.47 80.46L675.47 83.18M673.77 80.46L677.17 80.46M673.77 83.18L677.17 83.18M702.76 94.69L702.76 97.37M701.06 94.69L704.46 94.69M701.06 97.37L704.46 97.37M731.07 108.72L731.07 111.37M729.37 108.72L732.77 108.72M729.37 111.37L732.77 111.37M760.42 123.53L760.42 126.17M758.72 123.53L762.12 123.53M758.72 126.17L762.12 126.17M790.79 137.16L790.79 139.78M789.09 137.16L792.49 137.16M789.09 139.78L792.49 139.78M822.2 151.78L822.2 154.38M820.5 151.78L823.9 151.78M820.5 154.38L823.9 154.38" fill="none" stroke="#c6440c" stroke-width="0.6"/>
</g>
<rect x="622.37" y="51.58" width="3.23" height="3.23" fill="#c6440c" fill-opacity="0.12" stroke="#c6440c" stroke-width="1.0"/>
<rect x="647.6" y="65.46" width="3.23" height="3.23" fill="#c6440c" fill-opacity="0.12" stroke="#c6440c" stroke-width="1.0"/>
<rect x="673.85" y="80.2" width="3.23" height="3.23" fill="#c6440c" fill-opacity="0.12" stroke="#c6440c" stroke-width="1.0"/>
<rect x="701.14" y="94.41" width="3.23" height="3.23" fill="#c6440c" fill-opacity="0.12" stroke="#c6440c" stroke-width="1.0"/>
<rect x="729.46" y="108.43" width="3.23" height="3.23" fill="#c6440c" fill-opacity="0.12" stroke="#c6440c" stroke-width="1.0"/>
<rect x="758.8" y="123.24" width="3.23" height="3.23" fill="#c6440c" fill-opacity="0.12" stroke="#c6440c" stroke-width="1.0"/>
<g clip-path="url(#cir)">
<path d="M554.48 -0.43L576.62 13.53L599.79 28.53L623.99 44.43L649.21 61.38L675.47 78.68L702.76 95.99L731.07 112.81L760.42 129.88L790.79 146.23L822.2 161.39" fill="none" stroke="#000000" stroke-width="1.06" stroke-linejoin="round"/>
<path d="M554.48 -2.59L554.48 1.73M552.78 -2.59L556.18 -2.59M552.78 1.73L556.18 1.73M576.62 11.6L576.62 15.46M574.92 11.6L578.32 11.6M574.92 15.46L578.32 15.46M599.79 26.78L599.79 30.27M598.09 26.78L601.49 26.78M598.09 30.27L601.49 30.27M623.99 42.84L623.99 46.03M622.29 42.84L625.69 42.84M622.29 46.03L625.69 46.03M649.21 59.89L649.21 62.86M647.51 59.89L650.91 59.89M647.51 62.86L650.91 62.86M675.47 77.28L675.47 80.08M673.77 77.28L677.17 77.28M673.77 80.08L677.17 80.08M702.76 94.65L702.76 97.32M701.06 94.65L704.46 94.65M701.06 97.32L704.46 97.32M731.07 111.53L731.07 114.1M729.37 111.53L732.77 111.53M729.37 114.1L732.77 114.1M760.42 128.63L760.42 131.13M758.72 128.63L762.12 128.63M758.72 131.13L762.12 131.13M790.79 145L790.79 147.45M789.09 145L792.49 145M789.09 147.45L792.49 147.45M822.2 160.19L822.2 162.6M820.5 160.19L823.9 160.19M820.5 162.6L823.9 162.6" fill="none" stroke="#000000" stroke-width="0.6"/>
</g>
<circle cx="623.99" cy="44.43" r="1.66" fill="#000000" fill-opacity="0.1" stroke="#000000" stroke-width="1.05"/>
<circle cx="649.21" cy="61.38" r="1.66" fill="#000000" fill-opacity="0.1" stroke="#000000" stroke-width="1.05"/>
<circle cx="675.47" cy="78.68" r="1.66" fill="#000000" fill-opacity="0.1" stroke="#000000" stroke-width="1.05"/>
<circle cx="702.76" cy="95.99" r="1.66" fill="#000000" fill-opacity="0.1" stroke="#000000" stroke-width="1.05"/>
<circle cx="731.07" cy="112.81" r="1.66" fill="#000000" fill-opacity="0.1" stroke="#000000" stroke-width="1.05"/>
<circle cx="760.42" cy="129.88" r="1.66" fill="#000000" fill-opacity="0.1" stroke="#000000" stroke-width="1.05"/>
<g clip-path="url(#cir)">
</g>
<g transform="translate(31 165.2) rotate(-90) scale(1 1.1)">
<text x="0.3" y="0" font-size="17.4" text-anchor="start" font-style="italic">F</text>
<text x="9.2" y="3.1" font-size="13.8" text-anchor="start" font-style="italic" textLength="9.9" lengthAdjust="spacingAndGlyphs">q</text>
<text x="21.9" y="0.8" font-size="18.4" text-anchor="start" textLength="7.2" lengthAdjust="spacingAndGlyphs">/</text>
<text x="35.3" y="0" font-size="17.4" text-anchor="start" font-style="italic">L</text>
<text x="44.2" y="-7" font-size="13.8" text-anchor="start" textLength="8.3" lengthAdjust="spacingAndGlyphs">2</text>
</g>
<g transform="translate(445.9 188.2) rotate(-90) scale(1 1.1)">
<text x="0.3" y="0" font-size="17.4" text-anchor="start" font-style="italic">F</text>
<text x="8.8" y="3.1" font-size="13.8" text-anchor="start" font-style="italic" textLength="10.6" lengthAdjust="spacingAndGlyphs">q</text>
<text x="21.9" y="0.8" font-size="18.4" text-anchor="start" textLength="7.6" lengthAdjust="spacingAndGlyphs">/</text>
<text x="34.3" y="0" font-size="17.4" text-anchor="start" font-style="italic">L</text>
<text x="45.4" y="-6.3" font-size="13.8" text-anchor="start" font-style="italic">D</text>
<text x="55.6" y="-6.3" font-size="13.8" text-anchor="start" textLength="6.6" lengthAdjust="spacingAndGlyphs">−</text>
<text x="61" y="-6.3" font-size="13.8" text-anchor="start" font-style="italic" textLength="8" lengthAdjust="spacingAndGlyphs">θ</text>
<text x="67.9" y="-7.6" font-size="11.4" text-anchor="start" textLength="5" lengthAdjust="spacingAndGlyphs">(</text>
<text x="71.2" y="-6" font-size="13.8" text-anchor="start" font-style="italic" textLength="9.2" lengthAdjust="spacingAndGlyphs">q</text>
<text x="79" y="-3.1" font-size="9.6" text-anchor="start" textLength="14.6" lengthAdjust="spacingAndGlyphs">EA</text>
<text x="93" y="-7.6" font-size="11.4" text-anchor="start" textLength="5" lengthAdjust="spacingAndGlyphs">)</text>
</g>
<text x="493.3" y="187" font-size="17.2" text-anchor="start" font-style="italic" textLength="9.4" lengthAdjust="spacingAndGlyphs">L</text>
<text x="507" y="187" font-size="17.2" text-anchor="start" textLength="10" lengthAdjust="spacingAndGlyphs">=</text>
<text x="522" y="187" font-size="17.2" text-anchor="start" textLength="9.5" lengthAdjust="spacingAndGlyphs">8</text>
<path d="M550.4 181.7L572.8 181.7M550.4 179.7L550.4 183.7M572.8 179.7L572.8 183.7" stroke="#ff0000" stroke-width="0.7" fill="none"/>
<path d="M558.9 183.1L564.1 183.1L561.5 178.6Z" fill="#ff0000"/>
<text x="493.3" y="202.6" font-size="17.2" text-anchor="start" font-style="italic" textLength="9.4" lengthAdjust="spacingAndGlyphs">L</text>
<text x="507" y="202.6" font-size="17.2" text-anchor="start" textLength="10" lengthAdjust="spacingAndGlyphs">=</text>
<text x="522" y="202.6" font-size="17.2" text-anchor="start" textLength="19.3" lengthAdjust="spacingAndGlyphs">12</text>
<path d="M550.4 197.3L572.8 197.3M550.4 195.3L550.4 199.3M572.8 195.3L572.8 199.3" stroke="#006400" stroke-width="0.7" fill="none"/>
<circle cx="561.5" cy="197.3" r="1.95" fill="#006400"/>
<text x="493.3" y="218.6" font-size="17.2" text-anchor="start" font-style="italic" textLength="9.4" lengthAdjust="spacingAndGlyphs">L</text>
<text x="507" y="218.6" font-size="17.2" text-anchor="start" textLength="10" lengthAdjust="spacingAndGlyphs">=</text>
<text x="522" y="218.6" font-size="17.2" text-anchor="start" textLength="19.3" lengthAdjust="spacingAndGlyphs">16</text>
<path d="M550.4 213.3L572.8 213.3M550.4 211.3L550.4 215.3M572.8 211.3L572.8 215.3" stroke="#0000ff" stroke-width="0.7" fill="none"/>
<rect x="559.65" y="211.45" width="3.7" height="3.7" fill="#0000ff"/>
<text x="493.3" y="233.9" font-size="17.2" text-anchor="start" font-style="italic" textLength="9.4" lengthAdjust="spacingAndGlyphs">L</text>
<text x="507" y="233.9" font-size="17.2" text-anchor="start" textLength="10" lengthAdjust="spacingAndGlyphs">=</text>
<text x="522" y="233.9" font-size="17.2" text-anchor="start" textLength="19.3" lengthAdjust="spacingAndGlyphs">24</text>
<path d="M550.4 228.8L572.8 228.8M550.4 226.8L550.4 230.8M572.8 226.8L572.8 230.8" stroke="#c6440c" stroke-width="0.7" fill="none"/>
<rect x="559.8" y="227.1" width="3.4" height="3.4" fill="#c6440c" fill-opacity="0.12" stroke="#c6440c" stroke-width="1.0"/>
<text x="493.3" y="249.6" font-size="17.2" text-anchor="start" font-style="italic" textLength="9.4" lengthAdjust="spacingAndGlyphs">L</text>
<text x="507" y="249.6" font-size="17.2" text-anchor="start" textLength="10" lengthAdjust="spacingAndGlyphs">=</text>
<text x="522" y="249.6" font-size="17.2" text-anchor="start" textLength="19.3" lengthAdjust="spacingAndGlyphs">32</text>
<path d="M550.4 244.5L572.8 244.5M550.4 242.5L550.4 246.5M572.8 242.5L572.8 246.5" stroke="#000000" stroke-width="0.7" fill="none"/>
<circle cx="561.5" cy="244.5" r="1.75" fill="#000000" fill-opacity="0.1" stroke="#000000" stroke-width="1.05"/>
</svg>
</body></html>
